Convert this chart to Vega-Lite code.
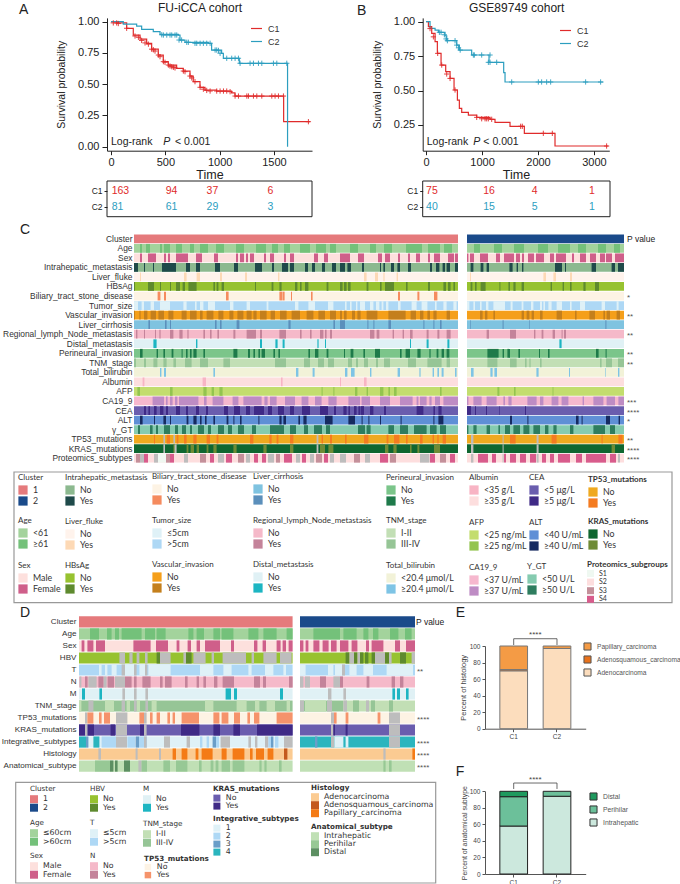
{"$schema":"https://vega.github.io/schema/vega-lite/v6.json","width":680,"height":884,"padding":0,"autosize":{"type":"none"},"background":"white",
"config":{"view":{"stroke":null},"font":"Liberation Sans","axis":{"grid":false,"domainColor":"#222","tickColor":"#222","labelColor":"#222","titleColor":"#222","titleFontWeight":"normal"},"legend":{"symbolType":"square","symbolSize":85,"symbolStrokeWidth":0,"labelFontSize":8.8,"titleFontSize":8,"titleFontWeight":"normal","rowPadding":1,"titlePadding":3,"labelOffset":5,"labelFont":"Lato","titleFont":"Lato","labelColor":"#333","titleColor":"#333","labelLimit":200,"titleLimit":300}},
"resolve":{"scale":{"x":"independent","y":"independent","color":"independent"}},
"layer":[
{"encoding":{"x":{"field":"t","type":"quantitative","scale":{"domain":[-37,1850],"range":[107,312],"nice":false,"zero":false},"axis":{"values":[0,500,1000,1500],"format":"d","orient":"bottom","offset":-733.3,"title":"Time","labelFontSize":11,"titleFontSize":12.5,"tickSize":4,"titlePadding":1,"labelPadding":2}},"y":{"field":"S","type":"quantitative","scale":{"domain":[-0.032,1.03],"range":[150.7,17.9],"nice":false,"zero":false},"axis":{"values":[0,0.25,0.5,0.75,1],"format":".2f","orient":"left","offset":-107,"title":"Survival probability","labelFontSize":11,"titleFontSize":10.5,"tickSize":5,"titlePadding":11,"labelPadding":3}}},
"layer":[
{"data":{"values":[{"s":"C1","t":0,"S":1},{"t":52,"S":0.99,"s":"C1"},{"t":144,"S":0.947,"s":"C1"},{"t":205,"S":0.893,"s":"C1"},{"t":267,"S":0.86,"s":"C1"},{"t":328,"S":0.827,"s":"C1"},{"t":374,"S":0.78,"s":"C1"},{"t":435,"S":0.733,"s":"C1"},{"t":481,"S":0.68,"s":"C1"},{"t":527,"S":0.653,"s":"C1"},{"t":604,"S":0.627,"s":"C1"},{"t":665,"S":0.605,"s":"C1"},{"t":727,"S":0.565,"s":"C1"},{"t":757,"S":0.52,"s":"C1"},{"t":819,"S":0.475,"s":"C1"},{"t":865,"S":0.453,"s":"C1"},{"t":972,"S":0.445,"s":"C1"},{"t":1110,"S":0.43,"s":"C1"},{"t":1141,"S":0.405,"s":"C1"},{"t":1589,"S":0.2,"s":"C1"},{"t":1831,"S":0.2,"s":"C1"},
{"s":"C2","t":0,"S":1},{"t":113,"S":0.981,"s":"C2"},{"t":236,"S":0.965,"s":"C2"},{"t":282,"S":0.939,"s":"C2"},{"t":389,"S":0.92,"s":"C2"},{"t":451,"S":0.899,"s":"C2"},{"t":620,"S":0.893,"s":"C2"},{"t":635,"S":0.853,"s":"C2"},{"t":681,"S":0.835,"s":"C2"},{"t":896,"S":0.827,"s":"C2"},{"t":926,"S":0.773,"s":"C2"},{"t":1018,"S":0.747,"s":"C2"},{"t":1034,"S":0.707,"s":"C2"},{"t":1181,"S":0.667,"s":"C2"},{"t":1625,"S":0,"s":"C2"}]},
"mark":{"type":"line","interpolate":"step-after","strokeWidth":1.2},
"encoding":{"color":{"field":"s","type":"nominal","scale":{"domain":["C1","C2"],"range":["#E02B2B","#2C9EBF"]},"legend":{"title":null,"orient":"none","legendX":250,"legendY":22,"symbolType":"stroke","symbolSize":120,"symbolStrokeWidth":1.2,"labelFont":"Liberation Sans","labelFontSize":9,"rowPadding":1}}}},
{"data":{"values":[{"s":"C1","t":21,"S":0.99},{"s":"C1","t":52,"S":0.99},{"s":"C1","t":67,"S":0.985},{"s":"C1","t":144,"S":0.947},{"s":"C1","t":221,"S":0.885},{"s":"C1","t":252,"S":0.875},{"s":"C1","t":282,"S":0.85},{"s":"C1","t":313,"S":0.83},{"s":"C1","t":344,"S":0.82},{"s":"C1","t":374,"S":0.78},{"s":"C1","t":390,"S":0.775},{"s":"C1","t":405,"S":0.765},{"s":"C1","t":436,"S":0.733},{"s":"C1","t":451,"S":0.72},{"s":"C1","t":482,"S":0.68},{"s":"C1","t":497,"S":0.675},{"s":"C1","t":528,"S":0.653},{"s":"C1","t":543,"S":0.645},{"s":"C1","t":559,"S":0.64},{"s":"C1","t":574,"S":0.635},{"s":"C1","t":589,"S":0.63},{"s":"C1","t":666,"S":0.605},{"s":"C1","t":681,"S":0.6},{"s":"C1","t":727,"S":0.565},{"s":"C1","t":743,"S":0.55},{"s":"C1","t":773,"S":0.52},{"s":"C1","t":820,"S":0.475},{"s":"C1","t":850,"S":0.46},{"s":"C1","t":881,"S":0.45},{"s":"C1","t":912,"S":0.445},{"s":"C1","t":973,"S":0.445},{"s":"C1","t":1004,"S":0.445},{"s":"C1","t":1035,"S":0.445},{"s":"C1","t":1065,"S":0.445},{"s":"C1","t":1096,"S":0.44},{"s":"C1","t":1142,"S":0.405},{"s":"C1","t":1173,"S":0.405},{"s":"C1","t":1250,"S":0.405},{"s":"C1","t":1265,"S":0.405},{"s":"C1","t":1311,"S":0.405},{"s":"C1","t":1342,"S":0.405},{"s":"C1","t":1388,"S":0.405},{"s":"C1","t":1480,"S":0.405},{"s":"C1","t":1510,"S":0.405},{"s":"C1","t":1541,"S":0.405},{"s":"C1","t":1587,"S":0.405},{"s":"C1","t":1817,"S":0.2},
{"s":"C2","t":467,"S":0.895},{"s":"C2","t":482,"S":0.893},{"s":"C2","t":513,"S":0.893},{"s":"C2","t":543,"S":0.893},{"s":"C2","t":559,"S":0.893},{"s":"C2","t":589,"S":0.893},{"s":"C2","t":605,"S":0.893},{"s":"C2","t":626,"S":0.853},{"s":"C2","t":650,"S":0.853},{"s":"C2","t":697,"S":0.835},{"s":"C2","t":712,"S":0.835},{"s":"C2","t":773,"S":0.827},{"s":"C2","t":789,"S":0.827},{"s":"C2","t":820,"S":0.827},{"s":"C2","t":850,"S":0.827},{"s":"C2","t":881,"S":0.827},{"s":"C2","t":912,"S":0.827},{"s":"C2","t":958,"S":0.773},{"s":"C2","t":973,"S":0.773},{"s":"C2","t":989,"S":0.77},{"s":"C2","t":1004,"S":0.747},{"s":"C2","t":1065,"S":0.707},{"s":"C2","t":1111,"S":0.707},{"s":"C2","t":1142,"S":0.707},{"s":"C2","t":1173,"S":0.707},{"s":"C2","t":1188,"S":0.667},{"s":"C2","t":1280,"S":0.667},{"s":"C2","t":1311,"S":0.667},{"s":"C2","t":1357,"S":0.667},{"s":"C2","t":1388,"S":0.667},{"s":"C2","t":1495,"S":0.667},{"s":"C2","t":1526,"S":0.667},{"s":"C2","t":1618,"S":0.667}]},
"mark":{"type":"point","shape":"M-1,0H1M0,-1V1","size":28,"filled":false,"strokeWidth":0.9,"opacity":1},
"encoding":{"color":{"field":"s","type":"nominal","legend":null}}},
{"data":{"values":[{"t":819,"S":1.11,"k":"FU-iCCA cohort"}]},"mark":{"type":"text","fontSize":12,"align":"center","color":"#222"},"encoding":{"text":{"field":"k"}}},
{"data":{"values":[{"t":-846,"S":1.09,"k":"A"}]},"mark":{"type":"text","fontSize":14,"align":"left","color":"#222"},"encoding":{"text":{"field":"k"}}},
{"data":{"values":[{"t":0,"S":0.04,"k":"Log-rank"},{"t":589,"S":0.04,"k":"< 0.001"}]},"mark":{"type":"text","fontSize":10.5,"align":"left","color":"#222"},"encoding":{"text":{"field":"k"}}},
{"data":{"values":[{"t":481,"S":0.04,"k":"P"}]},"mark":{"type":"text","fontSize":10.5,"align":"left","color":"#222","fontStyle":"italic"},"encoding":{"text":{"field":"k"}}}
]},
{"encoding":{"x":{"field":"t","type":"quantitative","scale":{"domain":[-60,3274],"range":[422.7,609.3],"nice":false,"zero":false},"axis":{"values":[0,1000,2000,3000],"format":"d","orient":"bottom","offset":-733.3,"title":"Time","labelFontSize":11,"titleFontSize":12.5,"tickSize":4,"titlePadding":1,"labelPadding":2}},"y":{"field":"S","type":"quantitative","scale":{"domain":[0.063,1.0276],"range":[150.7,17.9],"nice":false,"zero":false},"axis":{"values":[0.25,0.5,0.75,1],"format":".2f","orient":"left","offset":-422.7,"title":"Survival probability","labelFontSize":11,"titleFontSize":10.5,"tickSize":5,"titlePadding":11,"labelPadding":3}}},
"layer":[
{"data":{"values":[{"s":"C1","t":0,"S":1},{"s":"C1","t":42,"S":0.964},{"s":"C1","t":101,"S":0.915},{"s":"C1","t":161,"S":0.855},{"s":"C1","t":202,"S":0.77},{"s":"C1","t":268,"S":0.685},{"s":"C1","t":351,"S":0.637},{"s":"C1","t":429,"S":0.588},{"s":"C1","t":500,"S":0.504},{"s":"C1","t":560,"S":0.431},{"s":"C1","t":595,"S":0.37},{"s":"C1","t":637,"S":0.341},{"s":"C1","t":756,"S":0.322},{"s":"C1","t":905,"S":0.305},{"s":"C1","t":1143,"S":0.291},{"s":"C1","t":1232,"S":0.269},{"s":"C1","t":1500,"S":0.24},{"s":"C1","t":1756,"S":0.189},{"s":"C1","t":2304,"S":0.097},{"s":"C1","t":3256,"S":0.097},
{"s":"C2","t":0,"S":1},{"s":"C2","t":71,"S":0.952},{"s":"C2","t":161,"S":0.939},{"s":"C2","t":220,"S":0.923},{"s":"C2","t":339,"S":0.898},{"s":"C2","t":369,"S":0.862},{"s":"C2","t":548,"S":0.83},{"s":"C2","t":595,"S":0.794},{"s":"C2","t":815,"S":0.758},{"s":"C2","t":1125,"S":0.705},{"s":"C2","t":1387,"S":0.63},{"s":"C2","t":1411,"S":0.562},{"s":"C2","t":3167,"S":0.562}]},
"mark":{"type":"line","interpolate":"step-after","strokeWidth":1.2},
"encoding":{"color":{"field":"s","type":"nominal","scale":{"domain":["C1","C2"],"range":["#E02B2B","#2C9EBF"]},"legend":{"title":null,"orient":"none","legendX":559,"legendY":24,"symbolType":"stroke","symbolSize":120,"symbolStrokeWidth":1.2,"labelFont":"Liberation Sans","labelFontSize":9,"rowPadding":1}}}},
{"data":{"values":[{"s":"C1","t":71,"S":0.95},{"s":"C1","t":131,"S":0.89},{"s":"C1","t":208,"S":0.77},{"s":"C1","t":280,"S":0.685},{"s":"C1","t":369,"S":0.62},{"s":"C1","t":429,"S":0.588},{"s":"C1","t":518,"S":0.504},{"s":"C1","t":905,"S":0.305},{"s":"C1","t":994,"S":0.295},{"s":"C1","t":1054,"S":0.295},{"s":"C1","t":1083,"S":0.295},{"s":"C1","t":1113,"S":0.295},{"s":"C1","t":1173,"S":0.291},{"s":"C1","t":1690,"S":0.24},{"s":"C1","t":1720,"S":0.24},{"s":"C1","t":2095,"S":0.189},{"s":"C1","t":2256,"S":0.189},{"s":"C1","t":3226,"S":0.097},
{"s":"C2","t":238,"S":0.923},{"s":"C2","t":268,"S":0.923},{"s":"C2","t":327,"S":0.905},{"s":"C2","t":357,"S":0.875},{"s":"C2","t":381,"S":0.862},{"s":"C2","t":518,"S":0.862},{"s":"C2","t":548,"S":0.83},{"s":"C2","t":580,"S":0.81},{"s":"C2","t":610,"S":0.794},{"s":"C2","t":845,"S":0.758},{"s":"C2","t":863,"S":0.758},{"s":"C2","t":994,"S":0.758},{"s":"C2","t":1143,"S":0.758},{"s":"C2","t":1113,"S":0.705},{"s":"C2","t":1143,"S":0.705},{"s":"C2","t":1262,"S":0.705},{"s":"C2","t":1530,"S":0.562},{"s":"C2","t":2006,"S":0.562},{"s":"C2","t":2065,"S":0.562},{"s":"C2","t":2155,"S":0.562},{"s":"C2","t":2226,"S":0.562},{"s":"C2","t":2851,"S":0.562},{"s":"C2","t":3119,"S":0.562}]},
"mark":{"type":"point","shape":"M-1,0H1M0,-1V1","size":28,"filled":false,"strokeWidth":0.9,"opacity":1},
"encoding":{"color":{"field":"s","type":"nominal","legend":null}}},
{"data":{"values":[{"t":1620,"S":1.1,"k":"GSE89749 cohort"}]},"mark":{"type":"text","fontSize":12,"align":"center","color":"#222"},"encoding":{"text":{"field":"k"}}},
{"data":{"values":[{"t":-1232,"S":1.08,"k":"B"}]},"mark":{"type":"text","fontSize":14,"align":"left","color":"#222"},"encoding":{"text":{"field":"k"}}},
{"data":{"values":[{"t":12,"S":0.128,"k":"Log-rank"},{"t":1024,"S":0.128,"k":"< 0.001"}]},"mark":{"type":"text","fontSize":10.5,"align":"left","color":"#222"},"encoding":{"text":{"field":"k"}}},
{"data":{"values":[{"t":845,"S":0.128,"k":"P"}]},"mark":{"type":"text","fontSize":10.5,"align":"left","color":"#222","fontStyle":"italic"},"encoding":{"text":{"field":"k"}}}
]},
{"data":{"values":[{"s":"C1","t":6,"n":"163"},{"s":"C1","t":503,"n":"94"},{"s":"C1","t":880,"n":"37"},{"s":"C1","t":1441,"n":"6"},{"s":"C2","t":6,"n":"81"},{"s":"C2","t":503,"n":"61"},{"s":"C2","t":880,"n":"29"},{"s":"C2","t":1441,"n":"3"}]},"mark":{"type":"text","align":"left","fontSize":10.5},"encoding":{"x":{"field":"t","type":"quantitative","scale":{"domain":[-37,1850],"range":[107,312],"nice":false,"zero":false},"axis":null},"y":{"field":"s","type":"nominal","scale":{"domain":["C1","C2"],"range":[182.5,214.5]},"axis":{"orient":"left","offset":-107,"title":null,"domain":false,"labelFontSize":8.5,"tickSize":3}},"text":{"field":"n"},"color":{"field":"s","type":"nominal","scale":{"domain":["C1","C2"],"range":["#E02B2B","#2C9EBF"]},"legend":null}}},
{"data":{"values":[{"s":"C1","t":0,"n":"75"},{"s":"C1","t":1020,"n":"16"},{"s":"C1","t":1890,"n":"4"},{"s":"C1","t":2910,"n":"1"},{"s":"C2","t":0,"n":"40"},{"s":"C2","t":1020,"n":"15"},{"s":"C2","t":1890,"n":"5"},{"s":"C2","t":2910,"n":"1"}]},"mark":{"type":"text","align":"left","fontSize":10.5},"encoding":{"x":{"field":"t","type":"quantitative","scale":{"domain":[-60,3274],"range":[422.7,609.3],"nice":false,"zero":false},"axis":null},"y":{"field":"s","type":"nominal","scale":{"domain":["C1","C2"],"range":[182.5,214.5]},"axis":{"orient":"left","offset":-422.7,"title":null,"domain":false,"labelFontSize":8.5,"tickSize":3}},"text":{"field":"n"},"color":{"field":"s","type":"nominal","scale":{"domain":["C1","C2"],"range":["#E02B2B","#2C9EBF"]},"legend":null}}},
{"data":{"values":[{"p":0,"q":1}]},"mark":{"type":"rect","fillOpacity":0,"stroke":"#222","strokeWidth":1},"encoding":{"x":{"datum":0,"scale":{"domain":[0,1],"range":[107,312]},"axis":null},"x2":{"datum":1},"y":{"datum":0,"scale":{"domain":[0,1],"range":[181,216.7]},"axis":null},"y2":{"datum":1}}},
{"data":{"values":[{"p":0,"q":1}]},"mark":{"type":"rect","fillOpacity":0,"stroke":"#222","strokeWidth":1},"encoding":{"x":{"datum":0,"scale":{"domain":[0,1],"range":[422.7,610]},"axis":null},"x2":{"datum":1},"y":{"datum":0,"scale":{"domain":[0,1],"range":[181,216.7]},"axis":null},"y2":{"datum":1}}},
{"data":{"values":[{"p":0,"q":1}]},"mark":{"type":"rect","fillOpacity":0,"stroke":"#999","strokeWidth":1.2},"encoding":{"x":{"datum":0,"scale":{"domain":[0,1],"range":[14,672]},"axis":null},"x2":{"datum":1},"y":{"datum":0,"scale":{"domain":[0,1],"range":[472,602.7]},"axis":null},"y2":{"datum":1}}},
{"data":{"values":[{"p":0,"q":1}]},"mark":{"type":"rect","fillOpacity":0,"stroke":"#999","strokeWidth":1.2},"encoding":{"x":{"datum":0,"scale":{"domain":[0,1],"range":[15.7,435.7]},"axis":null},"x2":{"datum":1},"y":{"datum":0,"scale":{"domain":[0,1],"range":[782.3,883]},"axis":null},"y2":{"datum":1}}},
{"resolve":{"scale":{"color":"independent"},"axis":{"y":"independent"}},
"encoding":{"x":{"field":"a","type":"quantitative","scale":{"domain":[0,245],"range":[134,624],"nice":false,"zero":false},"axis":null},"x2":{"field":"b"}},
"layer":[
{"data":{"values":[{"a":0,"b":162,"v":"1"},{"a":166.5,"b":245,"v":"2"}]},"mark":"rect","encoding":{"y":{"datum":"Cluster","type":"nominal","scale":{"domain":["Cluster","Age","Sex","Intrahepatic_metastasis","Liver_fluke","HBsAg","Biliary_tract_stone_disease","Tumor_size","Vascular_invasion","Liver_cirrhosis","Regional_lymph_Node_metastasis","Distal_metastasis","Perineural_invasion","TNM_stage","Total_bilirubin","Albumin","AFP","CA19_9","CEA","ALT","γ_GT","TP53_mutations","KRAS_mutations","Proteomics_subtypes"],"range":[234,463],"paddingInner":0.08,"paddingOuter":0.04},"axis":{"orient":"left","offset":-132,"title":null,"domain":false,"ticks":false,"labelFontSize":8.4,"labelPadding":0,"labelLimit":200,"labelColor":"#333"}},"color":{"field":"v","type":"nominal","scale":{"domain":["1","2"],"range":["#E57A7C","#1A4A8A"]},"legend":{"title":"Cluster","orient":"none","legendX":18,"legendY":474}}}},
{"data":{"values":[{"a":0,"b":162,"v":"<61"},{"a":166.5,"b":245,"v":"<61"},{"a":3,"b":4,"v":"≥61"},{"a":6,"b":8,"v":"≥61"},{"a":13,"b":14,"v":"≥61"},{"a":15,"b":18,"v":"≥61"},{"a":21,"b":24,"v":"≥61"},{"a":28,"b":30,"v":"≥61"},{"a":33,"b":37,"v":"≥61"},{"a":41,"b":45,"v":"≥61"},{"a":51,"b":55,"v":"≥61"},{"a":61,"b":66,"v":"≥61"},{"a":69,"b":72,"v":"≥61"},{"a":75,"b":78,"v":"≥61"},{"a":83,"b":88,"v":"≥61"},{"a":91,"b":96,"v":"≥61"},{"a":98,"b":101,"v":"≥61"},{"a":108,"b":112,"v":"≥61"},{"a":118,"b":121,"v":"≥61"},{"a":125,"b":129,"v":"≥61"},{"a":136,"b":144,"v":"≥61"},{"a":147,"b":153,"v":"≥61"},{"a":155,"b":159,"v":"≥61"},{"a":170,"b":173,"v":"≥61"},{"a":180,"b":184,"v":"≥61"},{"a":190,"b":195,"v":"≥61"},{"a":202,"b":207,"v":"≥61"},{"a":212,"b":218,"v":"≥61"},{"a":222,"b":226,"v":"≥61"},{"a":232,"b":236,"v":"≥61"},{"a":240,"b":243,"v":"≥61"}]},"mark":"rect","encoding":{"y":{"datum":"Age","type":"nominal","axis":null},"color":{"field":"v","type":"nominal","scale":{"domain":["<61","≥61"],"range":["#A3D39C","#74C17A"]},"legend":{"title":"Age","orient":"none","legendX":18,"legendY":517}}}},
{"data":{"values":[{"a":0,"b":162,"v":"Male"},{"a":166.5,"b":245,"v":"Male"},{"a":3,"b":4,"v":"Female"},{"a":7,"b":11,"v":"Female"},{"a":15,"b":16,"v":"Female"},{"a":17,"b":18,"v":"Female"},{"a":21,"b":27,"v":"Female"},{"a":31,"b":34,"v":"Female"},{"a":40,"b":42,"v":"Female"},{"a":51,"b":52,"v":"Female"},{"a":53,"b":55,"v":"Female"},{"a":56,"b":57,"v":"Female"},{"a":58,"b":60,"v":"Female"},{"a":65,"b":66,"v":"Female"},{"a":68,"b":70,"v":"Female"},{"a":75,"b":76,"v":"Female"},{"a":78,"b":80,"v":"Female"},{"a":90,"b":92,"v":"Female"},{"a":95,"b":97,"v":"Female"},{"a":103,"b":108,"v":"Female"},{"a":112,"b":115,"v":"Female"},{"a":122,"b":124,"v":"Female"},{"a":125.5,"b":128,"v":"Female"},{"a":132,"b":133,"v":"Female"},{"a":137,"b":138,"v":"Female"},{"a":141,"b":143,"v":"Female"},{"a":147,"b":148,"v":"Female"},{"a":150,"b":153,"v":"Female"},{"a":157,"b":160,"v":"Female"},{"a":160.5,"b":162,"v":"Female"},{"a":166.5,"b":167.2,"v":"Female"},{"a":168,"b":170,"v":"Female"},{"a":173,"b":177,"v":"Female"},{"a":181,"b":183,"v":"Female"},{"a":185,"b":190,"v":"Female"},{"a":191,"b":193,"v":"Female"},{"a":194,"b":195,"v":"Female"},{"a":197,"b":200,"v":"Female"},{"a":201,"b":203,"v":"Female"},{"a":203,"b":205,"v":"Female"},{"a":208,"b":210,"v":"Female"},{"a":211,"b":216,"v":"Female"},{"a":219,"b":220,"v":"Female"},{"a":223,"b":226,"v":"Female"},{"a":228,"b":231,"v":"Female"},{"a":233,"b":235.5,"v":"Female"},{"a":236,"b":239,"v":"Female"},{"a":240.5,"b":245,"v":"Female"}]},"mark":"rect","encoding":{"y":{"datum":"Sex","type":"nominal","axis":null},"color":{"field":"v","type":"nominal","scale":{"domain":["Male","Female"],"range":["#FDE0DD","#CF5F8A"]},"legend":{"title":"Sex","orient":"none","legendX":18,"legendY":562}}}},
{"data":{"values":[{"a":0,"b":162,"v":"No"},{"a":166.5,"b":245,"v":"No"},{"a":0,"b":2,"v":"Yes"},{"a":5,"b":5.5,"v":"Yes"},{"a":9.5,"b":10,"v":"Yes"},{"a":14,"b":21,"v":"Yes"},{"a":26,"b":28,"v":"Yes"},{"a":31,"b":33,"v":"Yes"},{"a":40.5,"b":43,"v":"Yes"},{"a":50,"b":52,"v":"Yes"},{"a":60.5,"b":64,"v":"Yes"},{"a":69,"b":70,"v":"Yes"},{"a":74,"b":77,"v":"Yes"},{"a":78,"b":80,"v":"Yes"},{"a":85.5,"b":87,"v":"Yes"},{"a":89,"b":90.5,"v":"Yes"},{"a":94,"b":95.5,"v":"Yes"},{"a":99,"b":101,"v":"Yes"},{"a":103,"b":105.5,"v":"Yes"},{"a":106.7,"b":108.5,"v":"Yes"},{"a":114,"b":115,"v":"Yes"},{"a":123,"b":123.5,"v":"Yes"},{"a":124.7,"b":125.5,"v":"Yes"},{"a":128.5,"b":130,"v":"Yes"},{"a":131.7,"b":133,"v":"Yes"},{"a":137,"b":138.5,"v":"Yes"},{"a":148,"b":149,"v":"Yes"},{"a":151,"b":152.7,"v":"Yes"},{"a":154.3,"b":155.5,"v":"Yes"},{"a":156.3,"b":158,"v":"Yes"},{"a":160.5,"b":162,"v":"Yes"},{"a":168.3,"b":169.7,"v":"Yes"},{"a":173.3,"b":174.7,"v":"Yes"},{"a":176.3,"b":177.5,"v":"Yes"},{"a":187.7,"b":189.3,"v":"Yes"},{"a":191.3,"b":192,"v":"Yes"},{"a":194,"b":194.7,"v":"Yes"},{"a":210.5,"b":214,"v":"Yes"},{"a":215.5,"b":216,"v":"Yes"},{"a":228.8,"b":231,"v":"Yes"},{"a":238.8,"b":240.5,"v":"Yes"},{"a":242,"b":245,"v":"Yes"}]},"mark":"rect","encoding":{"y":{"datum":"Intrahepatic_metastasis","type":"nominal","axis":null},"color":{"field":"v","type":"nominal","scale":{"domain":["No","Yes"],"range":["#8CB98F","#1F4A4A"]},"legend":{"title":"Intrahepatic_metastasis","orient":"none","legendX":65,"legendY":474}}}},
{"data":{"values":[{"a":0,"b":162,"v":"No"},{"a":166.5,"b":245,"v":"No"},{"a":3,"b":3.5,"v":"Yes"},{"a":25,"b":26.3,"v":"Yes"},{"a":31.3,"b":33,"v":"Yes"},{"a":43,"b":44,"v":"Yes"},{"a":55.5,"b":56.5,"v":"Yes"},{"a":72,"b":72.7,"v":"Yes"},{"a":115,"b":116.3,"v":"Yes"},{"a":120.5,"b":122,"v":"Yes"},{"a":124.7,"b":125.3,"v":"Yes"},{"a":131.3,"b":132,"v":"Yes"},{"a":168,"b":168.5,"v":"Yes"},{"a":204.7,"b":206,"v":"Yes"},{"a":209.7,"b":211,"v":"Yes"},{"a":218,"b":219,"v":"Yes"}]},"mark":"rect","encoding":{"y":{"datum":"Liver_fluke","type":"nominal","axis":null},"color":{"field":"v","type":"nominal","scale":{"domain":["No","Yes"],"range":["#FFF3EC","#FDD9B5"]},"legend":{"title":"Liver_fluke","orient":"none","legendX":65,"legendY":518}}}},
{"data":{"values":[{"a":0,"b":162,"v":"No"},{"a":166.5,"b":245,"v":"No"},{"a":0,"b":0.5,"v":"Yes"},{"a":7,"b":10,"v":"Yes"},{"a":13,"b":13.5,"v":"Yes"},{"a":18,"b":18.5,"v":"Yes"},{"a":21,"b":23,"v":"Yes"},{"a":24.3,"b":25.5,"v":"Yes"},{"a":27.2,"b":31.3,"v":"Yes"},{"a":39.7,"b":40.5,"v":"Yes"},{"a":41.3,"b":42.2,"v":"Yes"},{"a":43.8,"b":45,"v":"Yes"},{"a":60.5,"b":61,"v":"Yes"},{"a":68.8,"b":69.7,"v":"Yes"},{"a":72.7,"b":73.8,"v":"Yes"},{"a":80.5,"b":81.7,"v":"Yes"},{"a":83,"b":83.8,"v":"Yes"},{"a":85.5,"b":87.2,"v":"Yes"},{"a":96.3,"b":97.2,"v":"Yes"},{"a":103,"b":104.3,"v":"Yes"},{"a":105,"b":106.3,"v":"Yes"},{"a":107,"b":108.3,"v":"Yes"},{"a":116.3,"b":117.2,"v":"Yes"},{"a":123,"b":123.8,"v":"Yes"},{"a":125.5,"b":130,"v":"Yes"},{"a":136,"b":136.8,"v":"Yes"},{"a":147,"b":148,"v":"Yes"},{"a":154.7,"b":156,"v":"Yes"},{"a":157,"b":158.3,"v":"Yes"},{"a":159.7,"b":160.5,"v":"Yes"},{"a":168.3,"b":169.2,"v":"Yes"},{"a":170.5,"b":171.3,"v":"Yes"},{"a":173.3,"b":175.8,"v":"Yes"},{"a":182.7,"b":183.2,"v":"Yes"},{"a":187.2,"b":188,"v":"Yes"},{"a":189.7,"b":190.8,"v":"Yes"},{"a":193.8,"b":195,"v":"Yes"},{"a":208.3,"b":209,"v":"Yes"},{"a":214.3,"b":215,"v":"Yes"},{"a":218,"b":218.8,"v":"Yes"},{"a":224.7,"b":225.8,"v":"Yes"},{"a":230.5,"b":232.5,"v":"Yes"}]},"mark":"rect","encoding":{"y":{"datum":"HBsAg","type":"nominal","axis":null},"color":{"field":"v","type":"nominal","scale":{"domain":["No","Yes"],"range":["#97C230","#5E8A2E"]},"legend":{"title":"HBsAg","orient":"none","legendX":65,"legendY":562}}}},
{"data":{"values":[{"a":0,"b":162,"v":"No"},{"a":166.5,"b":245,"v":"No"},{"a":11.8,"b":13.2,"v":"Yes"},{"a":15,"b":16,"v":"Yes"},{"a":46,"b":47.3,"v":"Yes"},{"a":72.7,"b":74,"v":"Yes"},{"a":74.2,"b":75.3,"v":"Yes"},{"a":78.5,"b":79,"v":"Yes"},{"a":88.5,"b":89.3,"v":"Yes"},{"a":132,"b":133,"v":"Yes"},{"a":141.7,"b":142.7,"v":"Yes"},{"a":150,"b":151.7,"v":"Yes"}]},"mark":"rect","encoding":{"y":{"datum":"Biliary_tract_stone_disease","type":"nominal","axis":null},"color":{"field":"v","type":"nominal","scale":{"domain":["No","Yes"],"range":["#FDF3E4","#F58B5E"]},"legend":{"title":"Biliary_tract_stone_disease","orient":"none","legendX":152,"legendY":473}}}},
{"data":{"values":[{"a":0,"b":162,"v":">5cm"},{"a":166.5,"b":245,"v":">5cm"},{"a":0,"b":2,"v":"≤5cm"},{"a":3.8,"b":5,"v":"≤5cm"},{"a":8.3,"b":10,"v":"≤5cm"},{"a":13,"b":18,"v":"≤5cm"},{"a":24.7,"b":26.3,"v":"≤5cm"},{"a":30.5,"b":31.3,"v":"≤5cm"},{"a":33,"b":34.7,"v":"≤5cm"},{"a":37,"b":40.5,"v":"≤5cm"},{"a":48,"b":49.7,"v":"≤5cm"},{"a":56.3,"b":58,"v":"≤5cm"},{"a":66.3,"b":67.2,"v":"≤5cm"},{"a":80.5,"b":82.2,"v":"≤5cm"},{"a":87.2,"b":90.5,"v":"≤5cm"},{"a":97,"b":99.7,"v":"≤5cm"},{"a":105.5,"b":106.3,"v":"≤5cm"},{"a":108,"b":108.8,"v":"≤5cm"},{"a":111,"b":111.7,"v":"≤5cm"},{"a":113,"b":115.5,"v":"≤5cm"},{"a":118,"b":119.7,"v":"≤5cm"},{"a":121,"b":122.7,"v":"≤5cm"},{"a":123.8,"b":124.7,"v":"≤5cm"},{"a":126,"b":127.2,"v":"≤5cm"},{"a":132,"b":133.3,"v":"≤5cm"},{"a":138.8,"b":141.3,"v":"≤5cm"},{"a":143.8,"b":146.7,"v":"≤5cm"},{"a":150.5,"b":151.3,"v":"≤5cm"},{"a":154.7,"b":156.3,"v":"≤5cm"},{"a":159.7,"b":161.3,"v":"≤5cm"},{"a":166.5,"b":167.7,"v":"≤5cm"},{"a":169.7,"b":170.5,"v":"≤5cm"},{"a":173,"b":173.8,"v":"≤5cm"},{"a":176,"b":177.2,"v":"≤5cm"},{"a":179.7,"b":185.5,"v":"≤5cm"},{"a":188.3,"b":189.3,"v":"≤5cm"},{"a":193.8,"b":194.7,"v":"≤5cm"},{"a":198.5,"b":199.7,"v":"≤5cm"},{"a":203,"b":204,"v":"≤5cm"},{"a":204.7,"b":205.5,"v":"≤5cm"},{"a":207.2,"b":208.8,"v":"≤5cm"},{"a":211.3,"b":214,"v":"≤5cm"},{"a":218,"b":218.8,"v":"≤5cm"},{"a":223,"b":225.5,"v":"≤5cm"},{"a":233.8,"b":235.5,"v":"≤5cm"},{"a":241.3,"b":242.3,"v":"≤5cm"}]},"mark":"rect","encoding":{"y":{"datum":"Tumor_size","type":"nominal","axis":null},"color":{"field":"v","type":"nominal","scale":{"domain":["≤5cm",">5cm"],"range":["#DFF1F7","#AED8F5"]},"legend":{"title":"Tumor_size","orient":"none","legendX":152,"legendY":517}}}},
{"data":{"values":[{"a":0,"b":162,"v":"No"},{"a":166.5,"b":245,"v":"No"},{"a":0,"b":0.5,"v":"Yes"},{"a":2.7,"b":3.3,"v":"Yes"},{"a":5,"b":6.7,"v":"Yes"},{"a":8.3,"b":11,"v":"Yes"},{"a":12.2,"b":15,"v":"Yes"},{"a":17.2,"b":19.7,"v":"Yes"},{"a":23.8,"b":26.3,"v":"Yes"},{"a":28,"b":31.3,"v":"Yes"},{"a":33,"b":34.3,"v":"Yes"},{"a":36.3,"b":39.7,"v":"Yes"},{"a":42.2,"b":44.7,"v":"Yes"},{"a":47.7,"b":49.7,"v":"Yes"},{"a":51.7,"b":54.7,"v":"Yes"},{"a":56.3,"b":58.8,"v":"Yes"},{"a":59.7,"b":61.3,"v":"Yes"},{"a":63,"b":66.3,"v":"Yes"},{"a":68.3,"b":70.5,"v":"Yes"},{"a":73,"b":76.3,"v":"Yes"},{"a":78.8,"b":83,"v":"Yes"},{"a":86.3,"b":89.7,"v":"Yes"},{"a":92.2,"b":95.5,"v":"Yes"},{"a":98,"b":101,"v":"Yes"},{"a":103,"b":104,"v":"Yes"},{"a":105,"b":106.3,"v":"Yes"},{"a":109,"b":110.5,"v":"Yes"},{"a":111.7,"b":113.3,"v":"Yes"},{"a":116.3,"b":121.7,"v":"Yes"},{"a":127.2,"b":135.8,"v":"Yes"},{"a":138.3,"b":141,"v":"Yes"},{"a":143,"b":144.7,"v":"Yes"},{"a":146.7,"b":148,"v":"Yes"},{"a":149.7,"b":151.3,"v":"Yes"},{"a":156.3,"b":158,"v":"Yes"},{"a":173,"b":174.3,"v":"Yes"},{"a":175.5,"b":176.7,"v":"Yes"},{"a":179.7,"b":180.5,"v":"Yes"},{"a":193.8,"b":195,"v":"Yes"},{"a":196.3,"b":197.7,"v":"Yes"},{"a":198.8,"b":200,"v":"Yes"},{"a":203,"b":204.3,"v":"Yes"},{"a":211.3,"b":214,"v":"Yes"},{"a":220.5,"b":221.3,"v":"Yes"},{"a":227.7,"b":230.5,"v":"Yes"},{"a":234.7,"b":235.5,"v":"Yes"},{"a":236.3,"b":238,"v":"Yes"},{"a":241.3,"b":243,"v":"Yes"}]},"mark":"rect","encoding":{"y":{"datum":"Vascular_invasion","type":"nominal","axis":null},"color":{"field":"v","type":"nominal","scale":{"domain":["No","Yes"],"range":["#F59F1A","#C47F1C"]},"legend":{"title":"Vascular_invasion","orient":"none","legendX":152,"legendY":561}}}},
{"data":{"values":[{"a":0,"b":162,"v":"No"},{"a":166.5,"b":245,"v":"No"},{"a":7.2,"b":8,"v":"Yes"},{"a":15.5,"b":16.3,"v":"Yes"},{"a":18,"b":18.5,"v":"Yes"},{"a":40.5,"b":41.3,"v":"Yes"},{"a":43,"b":43.8,"v":"Yes"},{"a":51.3,"b":52.7,"v":"Yes"},{"a":77.2,"b":78.3,"v":"Yes"},{"a":99.7,"b":100.5,"v":"Yes"},{"a":103,"b":105.5,"v":"Yes"},{"a":116.7,"b":117.2,"v":"Yes"},{"a":119.7,"b":120.2,"v":"Yes"},{"a":127.2,"b":128.5,"v":"Yes"},{"a":144.7,"b":145.2,"v":"Yes"},{"a":149.7,"b":150.2,"v":"Yes"},{"a":153,"b":153.8,"v":"Yes"},{"a":168,"b":168.3,"v":"Yes"},{"a":184.3,"b":184.8,"v":"Yes"},{"a":197.7,"b":198,"v":"Yes"},{"a":235.7,"b":236.2,"v":"Yes"}]},"mark":"rect","encoding":{"y":{"datum":"Liver_cirrhosis","type":"nominal","axis":null},"color":{"field":"v","type":"nominal","scale":{"domain":["No","Yes"],"range":["#7FC3E0","#5B8FBB"]},"legend":{"title":"Liver_cirrhosis","orient":"none","legendX":253,"legendY":473}}}},
{"data":{"values":[{"a":0,"b":162,"v":"No"},{"a":166.5,"b":245,"v":"No"},{"a":1,"b":1.7,"v":"Yes"},{"a":5,"b":5.5,"v":"Yes"},{"a":10.5,"b":11,"v":"Yes"},{"a":12.7,"b":13.3,"v":"Yes"},{"a":18,"b":19.7,"v":"Yes"},{"a":22.7,"b":24.3,"v":"Yes"},{"a":26.7,"b":27.3,"v":"Yes"},{"a":34.7,"b":35.5,"v":"Yes"},{"a":38,"b":38.8,"v":"Yes"},{"a":41.7,"b":42.5,"v":"Yes"},{"a":49.7,"b":50.7,"v":"Yes"},{"a":56.3,"b":61,"v":"Yes"},{"a":63,"b":64,"v":"Yes"},{"a":72.7,"b":76,"v":"Yes"},{"a":83,"b":83.8,"v":"Yes"},{"a":88,"b":88.8,"v":"Yes"},{"a":93,"b":94.7,"v":"Yes"},{"a":95.5,"b":96.3,"v":"Yes"},{"a":98,"b":99,"v":"Yes"},{"a":118,"b":120.2,"v":"Yes"},{"a":121.3,"b":122.7,"v":"Yes"},{"a":129.3,"b":130,"v":"Yes"},{"a":134.3,"b":135,"v":"Yes"},{"a":138,"b":139.3,"v":"Yes"},{"a":146.3,"b":147.3,"v":"Yes"},{"a":151.7,"b":152.7,"v":"Yes"},{"a":156.3,"b":158.3,"v":"Yes"},{"a":176.3,"b":177.5,"v":"Yes"},{"a":188,"b":191,"v":"Yes"},{"a":200,"b":200.7,"v":"Yes"},{"a":203.8,"b":204.7,"v":"Yes"},{"a":209.3,"b":210.5,"v":"Yes"},{"a":213.8,"b":214.3,"v":"Yes"},{"a":215,"b":216,"v":"Yes"}]},"mark":"rect","encoding":{"y":{"datum":"Regional_lymph_Node_metastasis","type":"nominal","axis":null},"color":{"field":"v","type":"nominal","scale":{"domain":["No","Yes"],"range":["#F5B9C9","#C4839A"]},"legend":{"title":"Regional_lymph_Node_metastasis","orient":"none","legendX":253,"legendY":517}}}},
{"data":{"values":[{"a":0,"b":162,"v":"No"},{"a":166.5,"b":245,"v":"No"},{"a":9.7,"b":11.3,"v":"Yes"},{"a":31,"b":31.7,"v":"Yes"},{"a":63,"b":64,"v":"Yes"},{"a":70.7,"b":71.8,"v":"Yes"},{"a":74.3,"b":75.3,"v":"Yes"},{"a":91.7,"b":92.3,"v":"Yes"},{"a":95.5,"b":96,"v":"Yes"},{"a":138,"b":138.5,"v":"Yes"},{"a":146.3,"b":147.3,"v":"Yes"},{"a":156.7,"b":157.7,"v":"Yes"},{"a":212.7,"b":213.8,"v":"Yes"}]},"mark":"rect","encoding":{"y":{"datum":"Distal_metastasis","type":"nominal","axis":null},"color":{"field":"v","type":"nominal","scale":{"domain":["No","Yes"],"range":["#E0F1F5","#1CB5C2"]},"legend":{"title":"Distal_metastasis","orient":"none","legendX":253,"legendY":561}}}},
{"data":{"values":[{"a":0,"b":162,"v":"No"},{"a":166.5,"b":245,"v":"No"},{"a":3,"b":4.3,"v":"Yes"},{"a":11.3,"b":12,"v":"Yes"},{"a":14.7,"b":15.5,"v":"Yes"},{"a":18.8,"b":19.7,"v":"Yes"},{"a":23.8,"b":24.3,"v":"Yes"},{"a":26,"b":26.8,"v":"Yes"},{"a":28,"b":28.8,"v":"Yes"},{"a":29.7,"b":31.3,"v":"Yes"},{"a":34.7,"b":35.5,"v":"Yes"},{"a":49.7,"b":51.7,"v":"Yes"},{"a":57,"b":58,"v":"Yes"},{"a":59.7,"b":60.5,"v":"Yes"},{"a":62.2,"b":63,"v":"Yes"},{"a":63.8,"b":65.5,"v":"Yes"},{"a":69.7,"b":70.5,"v":"Yes"},{"a":72.2,"b":73,"v":"Yes"},{"a":87.2,"b":88,"v":"Yes"},{"a":90.5,"b":92.2,"v":"Yes"},{"a":96.3,"b":97.2,"v":"Yes"},{"a":105,"b":105.5,"v":"Yes"},{"a":108.3,"b":109.7,"v":"Yes"},{"a":114.7,"b":115.5,"v":"Yes"},{"a":120.5,"b":123,"v":"Yes"},{"a":133,"b":133.8,"v":"Yes"},{"a":135.8,"b":138,"v":"Yes"},{"a":141.7,"b":143.3,"v":"Yes"},{"a":147.7,"b":148.3,"v":"Yes"},{"a":151.3,"b":152.2,"v":"Yes"},{"a":153.8,"b":155,"v":"Yes"},{"a":156.3,"b":157.7,"v":"Yes"},{"a":176.7,"b":182.3,"v":"Yes"},{"a":184.3,"b":185,"v":"Yes"},{"a":186.7,"b":188,"v":"Yes"},{"a":192.2,"b":193,"v":"Yes"},{"a":202.5,"b":203,"v":"Yes"},{"a":207,"b":207.8,"v":"Yes"},{"a":231,"b":232.3,"v":"Yes"},{"a":235.8,"b":236.3,"v":"Yes"}]},"mark":"rect","encoding":{"y":{"datum":"Perineural_invasion","type":"nominal","axis":null},"color":{"field":"v","type":"nominal","scale":{"domain":["No","Yes"],"range":["#7BC58A","#1E7A4A"]},"legend":{"title":"Perineural_invasion","orient":"none","legendX":386,"legendY":474}}}},
{"data":{"values":[{"a":0,"b":162,"v":"I-II"},{"a":166.5,"b":245,"v":"I-II"},{"a":0,"b":1,"v":"III-IV"},{"a":5,"b":6,"v":"III-IV"},{"a":9.7,"b":11.7,"v":"III-IV"},{"a":14.7,"b":16.3,"v":"III-IV"},{"a":19.7,"b":21,"v":"III-IV"},{"a":25.5,"b":28.8,"v":"III-IV"},{"a":33,"b":37,"v":"III-IV"},{"a":44.7,"b":48,"v":"III-IV"},{"a":70.5,"b":76,"v":"III-IV"},{"a":85,"b":88,"v":"III-IV"},{"a":92,"b":95,"v":"III-IV"},{"a":97,"b":100,"v":"III-IV"},{"a":107,"b":109,"v":"III-IV"},{"a":111,"b":112,"v":"III-IV"},{"a":115,"b":117,"v":"III-IV"},{"a":121,"b":122,"v":"III-IV"},{"a":125,"b":128,"v":"III-IV"},{"a":137,"b":141,"v":"III-IV"},{"a":146.7,"b":153.8,"v":"III-IV"},{"a":156.3,"b":158,"v":"III-IV"},{"a":176.7,"b":181.7,"v":"III-IV"},{"a":188,"b":191.3,"v":"III-IV"},{"a":195.5,"b":196.3,"v":"III-IV"},{"a":197.7,"b":198.3,"v":"III-IV"},{"a":203,"b":203.8,"v":"III-IV"},{"a":233,"b":233.8,"v":"III-IV"},{"a":236,"b":239,"v":"III-IV"},{"a":242,"b":245,"v":"III-IV"}]},"mark":"rect","encoding":{"y":{"datum":"TNM_stage","type":"nominal","axis":null},"color":{"field":"v","type":"nominal","scale":{"domain":["I-II","III-IV"],"range":["#C2DFB5","#96C596"]},"legend":{"title":"TNM_stage","orient":"none","legendX":386,"legendY":517}}}},
{"data":{"values":[{"a":0,"b":162,"v":"<20.4 μmol/L"},{"a":166.5,"b":245,"v":"<20.4 μmol/L"},{"a":13,"b":13.7,"v":"≥20.4 μmol/L"},{"a":15,"b":16,"v":"≥20.4 μmol/L"},{"a":39.7,"b":40.5,"v":"≥20.4 μmol/L"},{"a":81,"b":82.2,"v":"≥20.4 μmol/L"},{"a":89.3,"b":90.3,"v":"≥20.4 μmol/L"},{"a":105.5,"b":106.7,"v":"≥20.4 μmol/L"},{"a":108.5,"b":110.3,"v":"≥20.4 μmol/L"},{"a":118,"b":118.7,"v":"≥20.4 μmol/L"},{"a":131.8,"b":133,"v":"≥20.4 μmol/L"},{"a":142.7,"b":143.3,"v":"≥20.4 μmol/L"},{"a":149.3,"b":150,"v":"≥20.4 μmol/L"},{"a":151.7,"b":152.5,"v":"≥20.4 μmol/L"},{"a":153.8,"b":154.8,"v":"≥20.4 μmol/L"},{"a":160.5,"b":161.3,"v":"≥20.4 μmol/L"},{"a":168.5,"b":169.8,"v":"≥20.4 μmol/L"},{"a":178.2,"b":179.3,"v":"≥20.4 μmol/L"},{"a":180.2,"b":181.5,"v":"≥20.4 μmol/L"},{"a":201.2,"b":202.3,"v":"≥20.4 μmol/L"},{"a":217.5,"b":218,"v":"≥20.4 μmol/L"},{"a":235.7,"b":236,"v":"≥20.4 μmol/L"},{"a":242,"b":242.7,"v":"≥20.4 μmol/L"}]},"mark":"rect","encoding":{"y":{"datum":"Total_bilirubin","type":"nominal","axis":null},"color":{"field":"v","type":"nominal","scale":{"domain":["<20.4 μmol/L","≥20.4 μmol/L"],"range":["#F2F2D8","#7EC4E5"]},"legend":{"title":"Total_bilirubin","orient":"none","legendX":386,"legendY":562}}}},
{"data":{"values":[{"a":0,"b":162,"v":"≥35 g/L"},{"a":166.5,"b":245,"v":"≥35 g/L"},{"a":4.3,"b":5.2,"v":"<35 g/L"},{"a":34.3,"b":36,"v":"<35 g/L"},{"a":73.5,"b":74.3,"v":"<35 g/L"},{"a":103,"b":103.5,"v":"<35 g/L"},{"a":115,"b":116.3,"v":"<35 g/L"}]},"mark":"rect","encoding":{"y":{"datum":"Albumin","type":"nominal","axis":null},"color":{"field":"v","type":"nominal","scale":{"domain":["<35 g/L","≥35 g/L"],"range":["#F8B4C4","#FDDEDE"]},"legend":{"title":"Albumin","orient":"none","legendX":469,"legendY":474}}}},
{"data":{"values":[{"a":0,"b":162,"v":"<25 ng/mL"},{"a":166.5,"b":245,"v":"<25 ng/mL"},{"a":1.7,"b":3,"v":"≥25 ng/mL"},{"a":18,"b":19.3,"v":"≥25 ng/mL"},{"a":34.7,"b":36.3,"v":"≥25 ng/mL"},{"a":38.8,"b":40,"v":"≥25 ng/mL"},{"a":42.7,"b":44.3,"v":"≥25 ng/mL"},{"a":93.8,"b":94.3,"v":"≥25 ng/mL"},{"a":99.7,"b":100.2,"v":"≥25 ng/mL"},{"a":110.5,"b":111.7,"v":"≥25 ng/mL"},{"a":116.3,"b":117,"v":"≥25 ng/mL"},{"a":123,"b":124.7,"v":"≥25 ng/mL"},{"a":127.2,"b":128,"v":"≥25 ng/mL"},{"a":130,"b":131.3,"v":"≥25 ng/mL"},{"a":153,"b":153.8,"v":"≥25 ng/mL"},{"a":181.7,"b":182.7,"v":"≥25 ng/mL"},{"a":190,"b":190.8,"v":"≥25 ng/mL"},{"a":209.3,"b":209.7,"v":"≥25 ng/mL"}]},"mark":"rect","encoding":{"y":{"datum":"AFP","type":"nominal","axis":null},"color":{"field":"v","type":"nominal","scale":{"domain":["<25 ng/mL","≥25 ng/mL"],"range":["#C3DD6E","#93C44F"]},"legend":{"title":"AFP","orient":"none","legendX":469,"legendY":519}}}},
{"data":{"values":[{"a":0,"b":162,"v":"<37 U/mL"},{"a":166.5,"b":245,"v":"<37 U/mL"},{"a":9.3,"b":15,"v":"≥37 U/mL"},{"a":16,"b":16.8,"v":"≥37 U/mL"},{"a":18,"b":19.3,"v":"≥37 U/mL"},{"a":20.5,"b":21.7,"v":"≥37 U/mL"},{"a":22.5,"b":32.2,"v":"≥37 U/mL"},{"a":35,"b":36.3,"v":"≥37 U/mL"},{"a":39.3,"b":44.7,"v":"≥37 U/mL"},{"a":49.3,"b":52.2,"v":"≥37 U/mL"},{"a":54.7,"b":63.8,"v":"≥37 U/mL"},{"a":65.2,"b":66.8,"v":"≥37 U/mL"},{"a":68,"b":71.3,"v":"≥37 U/mL"},{"a":75.5,"b":80.5,"v":"≥37 U/mL"},{"a":83.8,"b":87.2,"v":"≥37 U/mL"},{"a":90.5,"b":93.8,"v":"≥37 U/mL"},{"a":97.2,"b":101.3,"v":"≥37 U/mL"},{"a":107.2,"b":113,"v":"≥37 U/mL"},{"a":113.8,"b":118,"v":"≥37 U/mL"},{"a":123,"b":128,"v":"≥37 U/mL"},{"a":133,"b":139.3,"v":"≥37 U/mL"},{"a":141.3,"b":142.2,"v":"≥37 U/mL"},{"a":143,"b":146.3,"v":"≥37 U/mL"},{"a":147.7,"b":148.8,"v":"≥37 U/mL"},{"a":150.5,"b":153,"v":"≥37 U/mL"},{"a":154.7,"b":162,"v":"≥37 U/mL"},{"a":166.5,"b":167.2,"v":"≥37 U/mL"},{"a":169.7,"b":173.8,"v":"≥37 U/mL"},{"a":176.3,"b":181.3,"v":"≥37 U/mL"},{"a":184.7,"b":185.5,"v":"≥37 U/mL"},{"a":187.2,"b":188.8,"v":"≥37 U/mL"},{"a":196.7,"b":201.3,"v":"≥37 U/mL"},{"a":203,"b":204.7,"v":"≥37 U/mL"},{"a":208.8,"b":212.2,"v":"≥37 U/mL"},{"a":213.8,"b":217.2,"v":"≥37 U/mL"},{"a":224.3,"b":225,"v":"≥37 U/mL"},{"a":229.7,"b":234.7,"v":"≥37 U/mL"},{"a":236.3,"b":240.5,"v":"≥37 U/mL"},{"a":242.2,"b":245,"v":"≥37 U/mL"}]},"mark":"rect","encoding":{"y":{"datum":"CA19_9","type":"nominal","axis":null},"color":{"field":"v","type":"nominal","scale":{"domain":["<37 U/mL","≥37 U/mL"],"range":["#F6B8CE","#BE8CC4"]},"legend":{"title":"CA19_9","orient":"none","legendX":469,"legendY":564}}}},
{"data":{"values":[{"a":0,"b":162,"v":"<5 μg/L"},{"a":166.5,"b":245,"v":"<5 μg/L"},{"a":5,"b":6,"v":"≥5 μg/L"},{"a":7.2,"b":8,"v":"≥5 μg/L"},{"a":10,"b":11.3,"v":"≥5 μg/L"},{"a":13,"b":14.7,"v":"≥5 μg/L"},{"a":16,"b":17,"v":"≥5 μg/L"},{"a":21,"b":23,"v":"≥5 μg/L"},{"a":26,"b":27,"v":"≥5 μg/L"},{"a":31,"b":32.5,"v":"≥5 μg/L"},{"a":36,"b":37,"v":"≥5 μg/L"},{"a":45,"b":47,"v":"≥5 μg/L"},{"a":50,"b":53,"v":"≥5 μg/L"},{"a":56,"b":58,"v":"≥5 μg/L"},{"a":60,"b":65,"v":"≥5 μg/L"},{"a":67,"b":69,"v":"≥5 μg/L"},{"a":72,"b":75,"v":"≥5 μg/L"},{"a":78,"b":80,"v":"≥5 μg/L"},{"a":84,"b":88,"v":"≥5 μg/L"},{"a":93,"b":97,"v":"≥5 μg/L"},{"a":100,"b":101,"v":"≥5 μg/L"},{"a":104.7,"b":106.3,"v":"≥5 μg/L"},{"a":107.2,"b":108,"v":"≥5 μg/L"},{"a":110,"b":111.3,"v":"≥5 μg/L"},{"a":112.2,"b":113,"v":"≥5 μg/L"},{"a":113.3,"b":115,"v":"≥5 μg/L"},{"a":118,"b":119.7,"v":"≥5 μg/L"},{"a":125,"b":126,"v":"≥5 μg/L"},{"a":141.3,"b":144.7,"v":"≥5 μg/L"},{"a":149.7,"b":150.5,"v":"≥5 μg/L"},{"a":152.2,"b":153.8,"v":"≥5 μg/L"},{"a":166.5,"b":168.5,"v":"≥5 μg/L"},{"a":170.5,"b":171,"v":"≥5 μg/L"},{"a":176,"b":176.5,"v":"≥5 μg/L"},{"a":182.7,"b":183,"v":"≥5 μg/L"},{"a":195.5,"b":196,"v":"≥5 μg/L"}]},"mark":"rect","encoding":{"y":{"datum":"CEA","type":"nominal","axis":null},"color":{"field":"v","type":"nominal","scale":{"domain":["<5 μg/L","≥5 μg/L"],"range":["#6A5DAE","#3F2A86"]},"legend":{"title":"CEA","orient":"none","legendX":529,"legendY":474}}}},
{"data":{"values":[{"a":0,"b":162,"v":"<40 U/mL"},{"a":166.5,"b":245,"v":"<40 U/mL"},{"a":3,"b":4.3,"v":"≥40 U/mL"},{"a":10,"b":10.5,"v":"≥40 U/mL"},{"a":14.7,"b":16,"v":"≥40 U/mL"},{"a":18,"b":18.5,"v":"≥40 U/mL"},{"a":26.3,"b":27.2,"v":"≥40 U/mL"},{"a":29.7,"b":31.3,"v":"≥40 U/mL"},{"a":33,"b":33.8,"v":"≥40 U/mL"},{"a":35.5,"b":36.3,"v":"≥40 U/mL"},{"a":39.7,"b":40.5,"v":"≥40 U/mL"},{"a":46.3,"b":47.2,"v":"≥40 U/mL"},{"a":49.7,"b":50.2,"v":"≥40 U/mL"},{"a":53,"b":53.8,"v":"≥40 U/mL"},{"a":62.2,"b":62.7,"v":"≥40 U/mL"},{"a":72.7,"b":73.8,"v":"≥40 U/mL"},{"a":74.7,"b":76,"v":"≥40 U/mL"},{"a":82.2,"b":83,"v":"≥40 U/mL"},{"a":84.7,"b":86.3,"v":"≥40 U/mL"},{"a":95.5,"b":99.3,"v":"≥40 U/mL"},{"a":107.2,"b":110.5,"v":"≥40 U/mL"},{"a":113.8,"b":114.3,"v":"≥40 U/mL"},{"a":117.2,"b":117.7,"v":"≥40 U/mL"},{"a":123,"b":123.5,"v":"≥40 U/mL"},{"a":133.3,"b":133.8,"v":"≥40 U/mL"},{"a":149.7,"b":150.2,"v":"≥40 U/mL"},{"a":152.2,"b":154.7,"v":"≥40 U/mL"},{"a":188,"b":189,"v":"≥40 U/mL"},{"a":196.7,"b":197.2,"v":"≥40 U/mL"},{"a":221,"b":222.3,"v":"≥40 U/mL"},{"a":223.8,"b":224.3,"v":"≥40 U/mL"},{"a":236,"b":238,"v":"≥40 U/mL"},{"a":242.3,"b":243,"v":"≥40 U/mL"}]},"mark":"rect","encoding":{"y":{"datum":"ALT","type":"nominal","axis":null},"color":{"field":"v","type":"nominal","scale":{"domain":["<40 U/mL","≥40 U/mL"],"range":["#5F8FD6","#162A60"]},"legend":{"title":"ALT","orient":"none","legendX":529,"legendY":519}}}},
{"data":{"values":[{"a":0,"b":162,"v":"<50 U/L"},{"a":166.5,"b":245,"v":"<50 U/L"},{"a":2,"b":3,"v":"≥50 U/L"},{"a":8,"b":9.3,"v":"≥50 U/L"},{"a":11,"b":12,"v":"≥50 U/L"},{"a":15,"b":18,"v":"≥50 U/L"},{"a":20.5,"b":22,"v":"≥50 U/L"},{"a":24,"b":26,"v":"≥50 U/L"},{"a":28,"b":29,"v":"≥50 U/L"},{"a":32,"b":35,"v":"≥50 U/L"},{"a":37,"b":38.5,"v":"≥50 U/L"},{"a":42,"b":45,"v":"≥50 U/L"},{"a":47,"b":49,"v":"≥50 U/L"},{"a":52,"b":55,"v":"≥50 U/L"},{"a":59,"b":61,"v":"≥50 U/L"},{"a":68,"b":75,"v":"≥50 U/L"},{"a":78,"b":81,"v":"≥50 U/L"},{"a":85,"b":87,"v":"≥50 U/L"},{"a":90,"b":94,"v":"≥50 U/L"},{"a":96,"b":98,"v":"≥50 U/L"},{"a":112,"b":115.5,"v":"≥50 U/L"},{"a":116.3,"b":118.3,"v":"≥50 U/L"},{"a":127.2,"b":130,"v":"≥50 U/L"},{"a":133,"b":137,"v":"≥50 U/L"},{"a":140,"b":146.3,"v":"≥50 U/L"},{"a":148,"b":151.3,"v":"≥50 U/L"},{"a":153,"b":156,"v":"≥50 U/L"},{"a":166.5,"b":167.2,"v":"≥50 U/L"},{"a":169.7,"b":171.3,"v":"≥50 U/L"},{"a":176.3,"b":178,"v":"≥50 U/L"},{"a":182.2,"b":183,"v":"≥50 U/L"},{"a":185.5,"b":188,"v":"≥50 U/L"},{"a":189.7,"b":193,"v":"≥50 U/L"},{"a":194.7,"b":197.7,"v":"≥50 U/L"},{"a":199.7,"b":203,"v":"≥50 U/L"},{"a":205.5,"b":207.2,"v":"≥50 U/L"},{"a":209.7,"b":211.3,"v":"≥50 U/L"},{"a":218,"b":219.7,"v":"≥50 U/L"},{"a":229.7,"b":235.5,"v":"≥50 U/L"},{"a":238,"b":240.5,"v":"≥50 U/L"}]},"mark":"rect","encoding":{"y":{"datum":"γ_GT","type":"nominal","axis":null},"color":{"field":"v","type":"nominal","scale":{"domain":["<50 U/L","≥50 U/L"],"range":["#85CBB0","#2E7D5F"]},"legend":{"title":"Y_GT","orient":"none","legendX":527,"legendY":563}}}},
{"data":{"values":[{"a":0,"b":162,"v":"No"},{"a":166.5,"b":245,"v":"No"},{"a":10,"b":10.5,"v":"Yes"},{"a":16.3,"b":18,"v":"Yes"},{"a":21.3,"b":22.2,"v":"Yes"},{"a":25,"b":26.3,"v":"Yes"},{"a":29.7,"b":31.3,"v":"Yes"},{"a":36.3,"b":38,"v":"Yes"},{"a":41.3,"b":42.2,"v":"Yes"},{"a":58,"b":59.7,"v":"Yes"},{"a":67.7,"b":68.8,"v":"Yes"},{"a":71.3,"b":72.2,"v":"Yes"},{"a":78,"b":79.7,"v":"Yes"},{"a":93.8,"b":94.5,"v":"Yes"},{"a":98,"b":99,"v":"Yes"},{"a":105.5,"b":106.3,"v":"Yes"},{"a":115,"b":117.2,"v":"Yes"},{"a":126.3,"b":127.2,"v":"Yes"},{"a":130,"b":132.7,"v":"Yes"},{"a":136,"b":136.8,"v":"Yes"},{"a":143,"b":144.3,"v":"Yes"},{"a":149.3,"b":150,"v":"Yes"},{"a":151.7,"b":152.3,"v":"Yes"},{"a":154.3,"b":156,"v":"Yes"},{"a":188,"b":190.8,"v":"Yes"},{"a":208.8,"b":211.3,"v":"Yes"},{"a":233.8,"b":234.3,"v":"Yes"},{"a":242.2,"b":244.3,"v":"Yes"},{"a":14.7,"b":15.5,"v":"NA"},{"a":19.7,"b":20.5,"v":"NA"},{"a":91.3,"b":92.2,"v":"NA"},{"a":168.5,"b":169.7,"v":"NA"},{"a":184.3,"b":184.8,"v":"NA"},{"a":201.3,"b":202.3,"v":"NA"}]},"mark":"rect","encoding":{"y":{"datum":"TP53_mutations","type":"nominal","axis":null},"color":{"field":"v","type":"nominal","scale":{"domain":["No","Yes","NA"],"range":["#EFA91F","#F47B20","#BDBDBD"]},"legend":{"values":["No","Yes"],"title":"TP53_mutations","titleFontWeight":"bold","orient":"none","legendX":588,"legendY":476}}}},
{"data":{"values":[{"a":0,"b":162,"v":"No"},{"a":166.5,"b":245,"v":"No"},{"a":19.7,"b":20.5,"v":"Yes"},{"a":26.3,"b":27.2,"v":"Yes"},{"a":28.3,"b":30,"v":"Yes"},{"a":31.3,"b":32.5,"v":"Yes"},{"a":36.3,"b":37.2,"v":"Yes"},{"a":39.7,"b":41.3,"v":"Yes"},{"a":49.7,"b":51.3,"v":"Yes"},{"a":64.7,"b":66.3,"v":"Yes"},{"a":78,"b":79.7,"v":"Yes"},{"a":93,"b":95.5,"v":"Yes"},{"a":97.2,"b":99.7,"v":"Yes"},{"a":125.5,"b":127.2,"v":"Yes"},{"a":129.7,"b":131.3,"v":"Yes"},{"a":138,"b":138.8,"v":"Yes"},{"a":141.7,"b":142.7,"v":"Yes"},{"a":150,"b":153,"v":"Yes"},{"a":238.8,"b":240.5,"v":"Yes"},{"a":14.7,"b":15.5,"v":"NA"},{"a":20.3,"b":21.3,"v":"NA"},{"a":91.3,"b":92.2,"v":"NA"},{"a":168.5,"b":169.7,"v":"NA"},{"a":184.3,"b":184.8,"v":"NA"},{"a":201.3,"b":202.3,"v":"NA"}]},"mark":"rect","encoding":{"y":{"datum":"KRAS_mutations","type":"nominal","axis":null},"color":{"field":"v","type":"nominal","scale":{"domain":["No","Yes","NA"],"range":["#0F6630","#6E8B35","#BDBDBD"]},"legend":{"values":["No","Yes"],"title":"KRAS_mutations","titleFontWeight":"bold","orient":"none","legendX":588,"legendY":518}}}},
{"data":{"values":[{"a":0,"b":162,"v":"S2"},{"a":166.5,"b":245,"v":"S2"},{"a":1,"b":3,"v":"S3"},{"a":3,"b":5,"v":"NA"},{"a":5,"b":7,"v":"S4"},{"a":10,"b":12,"v":"NA"},{"a":12,"b":16,"v":"S1"},{"a":16,"b":18,"v":"S3"},{"a":18,"b":20,"v":"S4"},{"a":25,"b":27,"v":"NA"},{"a":33,"b":36,"v":"S3"},{"a":38,"b":40,"v":"S4"},{"a":42,"b":45,"v":"NA"},{"a":46,"b":49,"v":"S4"},{"a":52,"b":55,"v":"S3"},{"a":56,"b":58,"v":"NA"},{"a":60,"b":62,"v":"S4"},{"a":64,"b":66,"v":"S4"},{"a":67,"b":70,"v":"NA"},{"a":71,"b":73,"v":"S3"},{"a":75,"b":79,"v":"S4"},{"a":81,"b":83,"v":"NA"},{"a":84,"b":86,"v":"S4"},{"a":88,"b":90,"v":"NA"},{"a":91,"b":94,"v":"S3"},{"a":95,"b":97,"v":"S4"},{"a":98,"b":100,"v":"NA"},{"a":103,"b":106,"v":"NA"},{"a":110,"b":113,"v":"S3"},{"a":115.5,"b":118,"v":"NA"},{"a":123,"b":127,"v":"S4"},{"a":128,"b":131,"v":"S3"},{"a":143,"b":147.7,"v":"NA"},{"a":148,"b":150.5,"v":"S4"},{"a":153,"b":156,"v":"S3"},{"a":158,"b":160.5,"v":"S4"},{"a":172,"b":177,"v":"S4"},{"a":179,"b":181,"v":"S4"},{"a":185,"b":186,"v":"S4"},{"a":188,"b":191,"v":"S4"},{"a":193,"b":196,"v":"S4"},{"a":198,"b":201,"v":"S4"},{"a":204,"b":206,"v":"S4"},{"a":208,"b":210,"v":"S4"},{"a":212,"b":218,"v":"S4"},{"a":221,"b":224,"v":"S4"},{"a":226,"b":236,"v":"S4"},{"a":238,"b":241,"v":"S4"},{"a":168.5,"b":169.7,"v":"NA"},{"a":184.3,"b":184.8,"v":"NA"},{"a":201.3,"b":202.3,"v":"NA"},{"a":242,"b":243,"v":"NA"}]},"mark":"rect","encoding":{"y":{"datum":"Proteomics_subtypes","type":"nominal","axis":null},"color":{"field":"v","type":"nominal","scale":{"domain":["S1","S2","S3","S4","NA"],"range":["#EFF8F1","#FDDEDE","#C4909A","#D85C8C","#BDBDBD"]},"legend":{"values":["S1","S2","S3","S4"],"title":"Proteomics_subgroups","titleFontWeight":"bold","symbolSize":49,"labelFontSize":7,"rowPadding":0.6,"titlePadding":1,"orient":"none","legendX":587,"legendY":561}}}},
{"data":{"values":[{"a":246.5,"t":"Cluster","s":"P value"}]},"mark":{"type":"text","align":"left","fontSize":8.5,"color":"#222"},"encoding":{"y":{"field":"t","type":"nominal","axis":null},"text":{"field":"s"}}},
{"data":{"values":[{"a":246.5,"t":"Biliary_tract_stone_disease","s":"*"},{"a":246.5,"t":"Vascular_invasion","s":"**"},{"a":246.5,"t":"Regional_lymph_Node_metastasis","s":"**"},{"a":246.5,"t":"Perineural_invasion","s":"**"},{"a":246.5,"t":"TNM_stage","s":"**"},{"a":246.5,"t":"CA19_9","s":"***"},{"a":246.5,"t":"CEA","s":"****"},{"a":246.5,"t":"ALT","s":"*"},{"a":246.5,"t":"TP53_mutations","s":"**"},{"a":246.5,"t":"KRAS_mutations","s":"****"},{"a":246.5,"t":"Proteomics_subtypes","s":"****"}]},"mark":{"type":"text","align":"left","fontSize":8,"color":"#555","dy":2},"encoding":{"y":{"field":"t","type":"nominal","axis":null},"text":{"field":"s"}}},
{"data":{"values":[{"a":-57,"t":"Cluster","s":"C"}]},"mark":{"type":"text","fontSize":14,"align":"left","color":"#222","dy":-9},"encoding":{"y":{"field":"t","type":"nominal","axis":null},"text":{"field":"s"}}}
]},
{"resolve":{"scale":{"color":"independent"},"axis":{"y":"independent"}},
"encoding":{"x":{"field":"a","type":"quantitative","scale":{"domain":[0,168],"range":[79,415],"nice":false,"zero":false},"axis":null},"x2":{"field":"b"}},
"layer":[
{"data":{"values":[{"a":0,"b":106.8,"v":"1"},{"a":110.5,"b":168,"v":"2"}]},"mark":"rect","encoding":{"y":{"datum":"Cluster","type":"nominal","scale":{"domain":["Cluster","Age","Sex","HBV","T","N","M","TNM_stage","TP53_mutations","KRAS_mutations","Integrative_subtypes","Histology","Anatomical_subtype"],"range":[616,772],"paddingInner":0.07,"paddingOuter":0.03},"axis":{"orient":"left","offset":-76,"title":null,"domain":false,"ticks":false,"labelFontSize":8.1,"labelPadding":0,"labelLimit":200,"labelColor":"#333"}},"color":{"field":"v","type":"nominal","scale":{"domain":["1","2"],"range":["#E57A7C","#1A4A8A"]},"legend":{"title":"Cluster","orient":"none","legendX":30,"legendY":785,"labelFont":"DejaVu Sans","titleFont":"DejaVu Sans","labelFontSize":7.8,"titleFontSize":7.2,"symbolSize":64,"rowPadding":0.5,"titlePadding":3}}}},
{"data":{"values":[{"a":0,"b":106.8,"v":"≤60cm"},{"a":110.5,"b":168,"v":"≤60cm"},{"a":5.5,"b":10,"v":">60cm"},{"a":14,"b":16.3,"v":">60cm"},{"a":18,"b":20,"v":">60cm"},{"a":21.3,"b":31.3,"v":">60cm"},{"a":33,"b":38,"v":">60cm"},{"a":38.8,"b":43.3,"v":">60cm"},{"a":54.7,"b":57.2,"v":">60cm"},{"a":58.8,"b":62.5,"v":">60cm"},{"a":67.2,"b":70.5,"v":">60cm"},{"a":71.3,"b":77.2,"v":">60cm"},{"a":84.7,"b":89.7,"v":">60cm"},{"a":92.2,"b":98.8,"v":">60cm"},{"a":103.8,"b":106.8,"v":">60cm"},{"a":117.2,"b":130.5,"v":">60cm"},{"a":132.2,"b":138.8,"v":">60cm"},{"a":142.2,"b":144.7,"v":">60cm"},{"a":147,"b":149.7,"v":">60cm"},{"a":155.5,"b":159.7,"v":">60cm"},{"a":163,"b":166.3,"v":">60cm"}]},"mark":"rect","encoding":{"y":{"datum":"Age","type":"nominal","axis":null},"color":{"field":"v","type":"nominal","scale":{"domain":["≤60cm",">60cm"],"range":["#A3D39C","#74C17A"]},"legend":{"title":"Age","orient":"none","legendX":30,"legendY":819,"labelFont":"DejaVu Sans","titleFont":"DejaVu Sans","labelFontSize":7.8,"titleFontSize":7.2,"symbolSize":64,"rowPadding":0.5,"titlePadding":3}}}},
{"data":{"values":[{"a":0,"b":106.8,"v":"Male"},{"a":110.5,"b":168,"v":"Male"},{"a":1.3,"b":2.7,"v":"Female"},{"a":4.2,"b":7.2,"v":"Female"},{"a":8.5,"b":13,"v":"Female"},{"a":27.2,"b":35.8,"v":"Female"},{"a":38.5,"b":44.5,"v":"Female"},{"a":48.8,"b":50.2,"v":"Female"},{"a":54.3,"b":56,"v":"Female"},{"a":58.8,"b":60.5,"v":"Female"},{"a":63,"b":70.5,"v":"Female"},{"a":76,"b":77.5,"v":"Female"},{"a":87.5,"b":89.2,"v":"Female"},{"a":91.8,"b":93.5,"v":"Female"},{"a":98.8,"b":100.8,"v":"Female"},{"a":101.8,"b":103.5,"v":"Female"},{"a":104.8,"b":106.8,"v":"Female"},{"a":110.5,"b":112.2,"v":"Female"},{"a":113.3,"b":114.7,"v":"Female"},{"a":117.2,"b":120.2,"v":"Female"},{"a":121.8,"b":124.8,"v":"Female"},{"a":126,"b":128.8,"v":"Female"},{"a":130.5,"b":134.7,"v":"Female"},{"a":136.3,"b":139.2,"v":"Female"},{"a":143.5,"b":145,"v":"Female"},{"a":146.3,"b":152.2,"v":"Female"},{"a":158,"b":160.5,"v":"Female"},{"a":163.5,"b":168,"v":"Female"}]},"mark":"rect","encoding":{"y":{"datum":"Sex","type":"nominal","axis":null},"color":{"field":"v","type":"nominal","scale":{"domain":["Male","Female"],"range":["#FDE0DD","#CF5F8A"]},"legend":{"title":"Sex","orient":"none","legendX":30,"legendY":852,"labelFont":"DejaVu Sans","titleFont":"DejaVu Sans","labelFontSize":7.8,"titleFontSize":7.2,"symbolSize":64,"rowPadding":0.5,"titlePadding":3}}}},
{"data":{"values":[{"a":0,"b":106.8,"v":"No"},{"a":110.5,"b":168,"v":"No"},{"a":20.2,"b":23,"v":"NA"},{"a":25.2,"b":26.8,"v":"NA"},{"a":28.8,"b":30.2,"v":"NA"},{"a":33,"b":34.3,"v":"NA"},{"a":40.5,"b":45.8,"v":"NA"},{"a":52.2,"b":53.5,"v":"NA"},{"a":57.2,"b":63.3,"v":"NA"},{"a":66.3,"b":67.5,"v":"NA"},{"a":71.8,"b":83.5,"v":"NA"},{"a":86.3,"b":87.5,"v":"NA"},{"a":92.2,"b":98.8,"v":"NA"},{"a":100.5,"b":106.3,"v":"NA"},{"a":38.8,"b":40.5,"v":"Yes"},{"a":53.5,"b":56.3,"v":"Yes"},{"a":133.3,"b":135.2,"v":"Yes"},{"a":137.5,"b":139.2,"v":"Yes"},{"a":140.5,"b":142.2,"v":"Yes"},{"a":143,"b":144.7,"v":"Yes"},{"a":146.3,"b":148,"v":"Yes"},{"a":153,"b":155,"v":"Yes"},{"a":160.5,"b":163.5,"v":"Yes"},{"a":135.2,"b":137.5,"v":"NA"},{"a":139.2,"b":140.5,"v":"NA"},{"a":148,"b":153,"v":"NA"},{"a":155,"b":156.3,"v":"NA"},{"a":166.3,"b":168,"v":"NA"}]},"mark":"rect","encoding":{"y":{"datum":"HBV","type":"nominal","axis":null},"color":{"field":"v","type":"nominal","scale":{"domain":["No","Yes","NA"],"range":["#97C230","#5E8A2E","#BDBDBD"]},"legend":{"values":["No","Yes"],"title":"HBV","orient":"none","legendX":90,"legendY":785,"labelFont":"DejaVu Sans","titleFont":"DejaVu Sans","labelFontSize":7.8,"titleFontSize":7.2,"symbolSize":64,"rowPadding":0.5,"titlePadding":3}}}},
{"data":{"values":[{"a":0,"b":106.8,"v":">5cm"},{"a":110.5,"b":168,"v":">5cm"},{"a":10,"b":11.3,"v":"≤5cm"},{"a":13,"b":14.2,"v":"≤5cm"},{"a":16.3,"b":18.8,"v":"≤5cm"},{"a":21.7,"b":28,"v":"≤5cm"},{"a":30.2,"b":33,"v":"≤5cm"},{"a":34.7,"b":45.8,"v":"≤5cm"},{"a":60.5,"b":67.2,"v":"≤5cm"},{"a":72.2,"b":76.3,"v":"≤5cm"},{"a":84.7,"b":86.3,"v":"≤5cm"},{"a":93,"b":97.2,"v":"≤5cm"},{"a":102.2,"b":103.5,"v":"≤5cm"},{"a":110.5,"b":113.3,"v":"≤5cm"},{"a":124.5,"b":127.2,"v":"≤5cm"},{"a":128,"b":133,"v":"≤5cm"},{"a":135.2,"b":138.8,"v":"≤5cm"},{"a":142.2,"b":147,"v":"≤5cm"},{"a":153.8,"b":167,"v":"≤5cm"},{"a":21.3,"b":23,"v":"NA"},{"a":27.5,"b":28.8,"v":"NA"},{"a":33,"b":34.2,"v":"NA"},{"a":131.5,"b":133,"v":"NA"}]},"mark":"rect","encoding":{"y":{"datum":"T","type":"nominal","axis":null},"color":{"field":"v","type":"nominal","scale":{"domain":["≤5cm",">5cm","NA"],"range":["#DFF1F7","#AED8F5","#BDBDBD"]},"legend":{"values":["≤5cm",">5cm"],"title":"T","orient":"none","legendX":90,"legendY":819,"labelFont":"DejaVu Sans","titleFont":"DejaVu Sans","labelFontSize":7.8,"titleFontSize":7.2,"symbolSize":64,"rowPadding":0.5,"titlePadding":3}}}},
{"data":{"values":[{"a":0,"b":106.8,"v":"No"},{"a":110.5,"b":168,"v":"No"},{"a":0.3,"b":1.2,"v":"NA"},{"a":4.7,"b":8.8,"v":"NA"},{"a":12.2,"b":13.8,"v":"NA"},{"a":18,"b":23,"v":"NA"},{"a":3,"b":4.3,"v":"Yes"},{"a":9.7,"b":12.2,"v":"Yes"},{"a":14.3,"b":17.5,"v":"Yes"},{"a":23,"b":26.3,"v":"Yes"},{"a":27.5,"b":28.8,"v":"Yes"},{"a":31.7,"b":35.8,"v":"Yes"},{"a":40.5,"b":41.8,"v":"Yes"},{"a":43,"b":46.3,"v":"Yes"},{"a":53,"b":54.3,"v":"Yes"},{"a":58.8,"b":60,"v":"Yes"},{"a":62.2,"b":63.5,"v":"Yes"},{"a":67.5,"b":69.2,"v":"Yes"},{"a":71.8,"b":77.5,"v":"Yes"},{"a":87.5,"b":90.5,"v":"Yes"},{"a":92,"b":93.5,"v":"Yes"},{"a":105,"b":106.8,"v":"Yes"},{"a":110.5,"b":112.2,"v":"NA"},{"a":113,"b":115.5,"v":"NA"},{"a":127.2,"b":130.5,"v":"NA"},{"a":120.5,"b":123.5,"v":"Yes"},{"a":130.5,"b":132,"v":"Yes"},{"a":143.8,"b":145.2,"v":"Yes"},{"a":156.3,"b":158,"v":"Yes"},{"a":160.5,"b":162.2,"v":"Yes"}]},"mark":"rect","encoding":{"y":{"datum":"N","type":"nominal","axis":null},"color":{"field":"v","type":"nominal","scale":{"domain":["No","Yes","NA"],"range":["#F5B9C9","#C4839A","#BDBDBD"]},"legend":{"values":["No","Yes"],"title":"N","orient":"none","legendX":90,"legendY":852,"labelFont":"DejaVu Sans","titleFont":"DejaVu Sans","labelFontSize":7.8,"titleFontSize":7.2,"symbolSize":64,"rowPadding":0.5,"titlePadding":3}}}},
{"data":{"values":[{"a":0,"b":106.8,"v":"No"},{"a":110.5,"b":168,"v":"No"},{"a":1.5,"b":3,"v":"Yes"},{"a":10.2,"b":11.5,"v":"Yes"},{"a":73.3,"b":76,"v":"Yes"},{"a":77.5,"b":79,"v":"Yes"},{"a":100.5,"b":102,"v":"Yes"},{"a":21.7,"b":23,"v":"NA"},{"a":27.5,"b":28.8,"v":"NA"},{"a":33.2,"b":34.5,"v":"NA"},{"a":124.5,"b":126.2,"v":"NA"},{"a":132.2,"b":133.5,"v":"NA"},{"a":156.7,"b":158,"v":"Yes"},{"a":159,"b":160.5,"v":"Yes"},{"a":163.5,"b":164.8,"v":"Yes"}]},"mark":"rect","encoding":{"y":{"datum":"M","type":"nominal","axis":null},"color":{"field":"v","type":"nominal","scale":{"domain":["No","Yes","NA"],"range":["#E0F1F5","#1CB5C2","#BDBDBD"]},"legend":{"values":["No","Yes"],"title":"M","orient":"none","legendX":143,"legendY":785,"labelFont":"DejaVu Sans","titleFont":"DejaVu Sans","labelFontSize":7.8,"titleFontSize":7.2,"symbolSize":64,"rowPadding":0.5,"titlePadding":3}}}},
{"data":{"values":[{"a":0,"b":106.8,"v":"III-IV"},{"a":110.5,"b":132,"v":"III-IV"},{"a":132,"b":168,"v":"I-II"},{"a":0,"b":1.2,"v":"I-II"},{"a":13,"b":17.5,"v":"I-II"},{"a":23.8,"b":25.5,"v":"I-II"},{"a":28.8,"b":30.5,"v":"I-II"},{"a":36.3,"b":38.8,"v":"I-II"},{"a":63,"b":67.2,"v":"I-II"},{"a":78.8,"b":83.8,"v":"I-II"},{"a":88,"b":90.2,"v":"I-II"},{"a":93.8,"b":98,"v":"I-II"},{"a":103.8,"b":105.5,"v":"I-II"},{"a":113,"b":123.5,"v":"I-II"},{"a":137,"b":140,"v":"III-IV"},{"a":146,"b":148,"v":"III-IV"},{"a":155,"b":157,"v":"III-IV"},{"a":4.7,"b":7.2,"v":"NA"},{"a":21.3,"b":23,"v":"NA"},{"a":27.5,"b":28.8,"v":"NA"},{"a":33.2,"b":34.5,"v":"NA"},{"a":110.5,"b":112.5,"v":"NA"},{"a":124,"b":126.5,"v":"NA"},{"a":132.2,"b":134,"v":"NA"},{"a":143.5,"b":145,"v":"NA"}]},"mark":"rect","encoding":{"y":{"datum":"TNM_stage","type":"nominal","axis":null},"color":{"field":"v","type":"nominal","scale":{"domain":["I-II","III-IV","NA"],"range":["#C2DFB5","#96C596","#BDBDBD"]},"legend":{"values":["I-II","III-IV"],"title":"TNM_stage","orient":"none","legendX":143,"legendY":820,"labelFont":"DejaVu Sans","titleFont":"DejaVu Sans","labelFontSize":7.8,"titleFontSize":7.2,"symbolSize":64,"rowPadding":0.5,"titlePadding":3}}}},
{"data":{"values":[{"a":0,"b":106.8,"v":"No"},{"a":110.5,"b":168,"v":"No"},{"a":3,"b":4.2,"v":"NA"},{"a":18.5,"b":24.2,"v":"NA"},{"a":32.5,"b":33.8,"v":"NA"},{"a":4.2,"b":7.2,"v":"Yes"},{"a":10,"b":11.3,"v":"Yes"},{"a":12.5,"b":15.5,"v":"Yes"},{"a":30.2,"b":32.5,"v":"Yes"},{"a":35.5,"b":36.8,"v":"Yes"},{"a":38.8,"b":40.5,"v":"Yes"},{"a":44.2,"b":45.5,"v":"Yes"},{"a":46.8,"b":48,"v":"Yes"},{"a":51.3,"b":60,"v":"Yes"},{"a":67.2,"b":70.2,"v":"Yes"},{"a":71.3,"b":74.7,"v":"Yes"},{"a":77.5,"b":80.5,"v":"Yes"},{"a":84.2,"b":85.5,"v":"Yes"},{"a":87.5,"b":90.2,"v":"Yes"},{"a":98.8,"b":106.8,"v":"Yes"},{"a":126,"b":127.5,"v":"NA"},{"a":155,"b":160.5,"v":"NA"},{"a":127.5,"b":128.8,"v":"Yes"},{"a":133.3,"b":134.7,"v":"Yes"},{"a":149.3,"b":150.7,"v":"Yes"}]},"mark":"rect","encoding":{"y":{"datum":"TP53_mutations","type":"nominal","axis":null},"color":{"field":"v","type":"nominal","scale":{"domain":["No","Yes","NA"],"range":["#FDF3E4","#F5936B","#BDBDBD"]},"legend":{"values":["No","Yes"],"title":"TP53_mutations","titleFontWeight":"bold","orient":"none","legendX":144,"legendY":855,"labelFont":"DejaVu Sans","titleFont":"DejaVu Sans","labelFontSize":7.8,"titleFontSize":7.2,"symbolSize":42,"rowPadding":-1,"titlePadding":1}}}},
{"data":{"values":[{"a":0,"b":106.8,"v":"No"},{"a":110.5,"b":168,"v":"No"},{"a":0,"b":3,"v":"Yes"},{"a":4.2,"b":7.5,"v":"Yes"},{"a":15.8,"b":18,"v":"Yes"},{"a":30.5,"b":32.5,"v":"Yes"},{"a":51,"b":60.2,"v":"Yes"},{"a":67.2,"b":70.5,"v":"Yes"},{"a":77.2,"b":80.5,"v":"Yes"},{"a":89,"b":106.8,"v":"Yes"},{"a":3,"b":4.2,"v":"NA"},{"a":18.5,"b":24,"v":"NA"},{"a":32.5,"b":33.8,"v":"NA"},{"a":126,"b":127.2,"v":"NA"},{"a":155,"b":160.5,"v":"NA"},{"a":127.2,"b":128,"v":"Yes"},{"a":133.3,"b":134.3,"v":"Yes"}]},"mark":"rect","encoding":{"y":{"datum":"KRAS_mutations","type":"nominal","axis":null},"color":{"field":"v","type":"nominal","scale":{"domain":["No","Yes","NA"],"range":["#6A5DAE","#3F2A86","#BDBDBD"]},"legend":{"values":["No","Yes"],"title":"KRAS_mutations","titleFontWeight":"bold","orient":"none","legendX":213,"legendY":785,"labelFont":"DejaVu Sans","titleFont":"DejaVu Sans","labelFontSize":7.8,"titleFontSize":7.2,"symbolSize":49,"rowPadding":-1,"titlePadding":2}}}},
{"data":{"values":[{"a":0,"b":106.8,"v":"1"},{"a":110.5,"b":168,"v":"4"},{"a":0,"b":3.5,"v":"4"},{"a":3.5,"b":4.7,"v":"3"},{"a":7.2,"b":10.2,"v":"4"},{"a":11.3,"b":18.5,"v":"2"},{"a":18.5,"b":24,"v":"NA"},{"a":24.2,"b":28,"v":"2"},{"a":28.3,"b":30,"v":"3"},{"a":30,"b":34,"v":"2"},{"a":32.5,"b":33.8,"v":"NA"},{"a":42.5,"b":45.5,"v":"NA"},{"a":53.8,"b":55.5,"v":"NA"},{"a":60.5,"b":61.7,"v":"2"},{"a":63.8,"b":65,"v":"2"},{"a":66.8,"b":68.5,"v":"3"},{"a":68.5,"b":70,"v":"2"},{"a":70.8,"b":75.5,"v":"NA"},{"a":84.7,"b":86,"v":"NA"},{"a":88,"b":89.2,"v":"NA"},{"a":93,"b":94.7,"v":"NA"},{"a":94.7,"b":96,"v":"2"},{"a":96,"b":97.2,"v":"3"},{"a":98,"b":99.7,"v":"2"},{"a":102.5,"b":106.8,"v":"NA"},{"a":118,"b":119.2,"v":"3"},{"a":126,"b":127.7,"v":"NA"},{"a":127.7,"b":132.2,"v":"1"},{"a":133.3,"b":134.7,"v":"1"},{"a":155,"b":160.5,"v":"NA"}]},"mark":"rect","encoding":{"y":{"datum":"Integrative_subtypes","type":"nominal","axis":null},"color":{"field":"v","type":"nominal","scale":{"domain":["1","2","3","4","NA"],"range":["#DFF1F7","#AED8F5","#6A9EC8","#2BB5BE","#BDBDBD"]},"legend":{"values":["1","2","3","4"],"title":"Integrative_subtypes","titleFontWeight":"bold","orient":"none","legendX":213,"legendY":815,"labelFont":"DejaVu Sans","titleFont":"DejaVu Sans","labelFontSize":7.8,"titleFontSize":7.2,"symbolSize":49,"rowPadding":-2,"titlePadding":2}}}},
{"data":{"values":[{"a":0,"b":106.8,"v":"Adenocarcinoma"},{"a":110.5,"b":168,"v":"Adenocarcinoma"},{"a":46.8,"b":48.5,"v":"Papillary_carcinoma"},{"a":51.3,"b":54.2,"v":"Papillary_carcinoma"},{"a":58.3,"b":59.7,"v":"Papillary_carcinoma"},{"a":61.3,"b":66.8,"v":"Papillary_carcinoma"},{"a":71.3,"b":73.8,"v":"Papillary_carcinoma"},{"a":76.8,"b":82.7,"v":"Papillary_carcinoma"},{"a":85.5,"b":86.8,"v":"Papillary_carcinoma"},{"a":88.5,"b":92.5,"v":"Papillary_carcinoma"},{"a":94.3,"b":97.2,"v":"Papillary_carcinoma"},{"a":102.5,"b":104.2,"v":"Adenosquamous_carcinoma"},{"a":9.7,"b":11,"v":"NA"},{"a":28.3,"b":29.3,"v":"NA"},{"a":40,"b":41,"v":"NA"},{"a":152.2,"b":153.3,"v":"NA"},{"a":166.7,"b":168,"v":"Papillary_carcinoma"}]},"mark":"rect","encoding":{"y":{"datum":"Histology","type":"nominal","axis":null},"color":{"field":"v","type":"nominal","scale":{"domain":["Adenocarcinoma","Adenosquamous_carcinoma","Papillary_carcinoma","NA"],"range":["#FBCB92","#C45A1E","#F47B16","#BDBDBD"]},"legend":{"values":["Adenocarcinoma","Adenosquamous_carcinoma","Papillary_carcinoma"],"title":"Histology","titleFontWeight":"bold","orient":"none","legendX":311,"legendY":784,"labelFont":"DejaVu Sans","titleFont":"DejaVu Sans","labelFontSize":7.8,"titleFontSize":7.2,"symbolSize":64,"rowPadding":0,"titlePadding":2}}}},
{"data":{"values":[{"a":0,"b":106.8,"v":"Intrahepatic"},{"a":110.5,"b":168,"v":"Intrahepatic"},{"a":8,"b":15.5,"v":"Perihilar"},{"a":15.5,"b":17.2,"v":"Distal"},{"a":18,"b":19.3,"v":"Distal"},{"a":22.5,"b":25.5,"v":"Distal"},{"a":29.7,"b":31.3,"v":"NA"},{"a":31.3,"b":34,"v":"Perihilar"},{"a":42.2,"b":45.5,"v":"Perihilar"},{"a":48.5,"b":54.2,"v":"Perihilar"},{"a":60,"b":61.3,"v":"Perihilar"},{"a":65.8,"b":67.2,"v":"Perihilar"},{"a":68.3,"b":69.7,"v":"Perihilar"},{"a":71.3,"b":75.5,"v":"Perihilar"},{"a":76.8,"b":82.7,"v":"Perihilar"},{"a":90.2,"b":91.3,"v":"Perihilar"},{"a":92.7,"b":93.8,"v":"Perihilar"},{"a":100,"b":101.3,"v":"Perihilar"},{"a":152.2,"b":153.3,"v":"Perihilar"},{"a":155,"b":156.3,"v":"Perihilar"}]},"mark":"rect","encoding":{"y":{"datum":"Anatomical_subtype","type":"nominal","axis":null},"color":{"field":"v","type":"nominal","scale":{"domain":["Intrahepatic","Perihilar","Distal","NA"],"range":["#C0E0B5","#97C895","#5C8F62","#BDBDBD"]},"legend":{"values":["Intrahepatic","Perihilar","Distal"],"title":"Anatomical_subtype","titleFontWeight":"bold","orient":"none","legendX":311,"legendY":823,"labelFont":"DejaVu Sans","titleFont":"DejaVu Sans","labelFontSize":7.8,"titleFontSize":7.2,"symbolSize":64,"rowPadding":0,"titlePadding":2}}}},
{"data":{"values":[{"a":168.5,"t":"Cluster","s":"P value"}]},"mark":{"type":"text","align":"left","fontSize":8.5,"color":"#222"},"encoding":{"y":{"field":"t","type":"nominal","axis":null},"text":{"field":"s"}}},
{"data":{"values":[{"a":169,"t":"T","s":"**"},{"a":169,"t":"TP53_mutations","s":"****"},{"a":169,"t":"Integrative_subtypes","s":"****"},{"a":169,"t":"Histology","s":"****"},{"a":169,"t":"Anatomical_subtype","s":"****"}]},"mark":{"type":"text","align":"left","fontSize":8,"color":"#555","dy":2},"encoding":{"y":{"field":"t","type":"nominal","axis":null},"text":{"field":"s"}}},
{"data":{"values":[{"a":-29.5,"t":"Cluster","s":"D"}]},"mark":{"type":"text","fontSize":14,"align":"left","color":"#222","dy":-9},"encoding":{"y":{"field":"t","type":"nominal","axis":null},"text":{"field":"s"}}}
]},
{"encoding":{"x":{"field":"c","type":"nominal","scale":{"type":"band","domain":["C1","C2"],"range":[485,585.7],"paddingInner":0.36,"paddingOuter":0.343},"axis":{"orient":"bottom","offset":-155.3,"title":null,"labelAngle":0,"labelFontSize":6.5,"tickSize":3,"domainColor":"#555","tickColor":"#555","labelColor":"#444"}},"y":{"field":"lo","type":"quantitative","scale":{"domain":[0,100],"range":[728.7,646],"nice":false},"axis":{"orient":"left","offset":-485,"values":[0,20,40,60,80,100],"title":"Percent of histology","titleFontSize":7.5,"labelFontSize":6.5,"tickSize":3,"titlePadding":2,"domainColor":"#555","tickColor":"#555","labelColor":"#444","titleColor":"#444"}}},
"layer":[
{"data":{"values":[{"c":"C1","lo":0,"hi":70,"k":"Adenocarcinoma"},{"c":"C1","lo":70,"hi":71.5,"k":"Adenosquamous_carcinoma"},{"c":"C1","lo":71.5,"hi":100,"k":"Papillary_carcinoma"},{"c":"C2","lo":0,"hi":97,"k":"Adenocarcinoma"},{"c":"C2","lo":97,"hi":100,"k":"Papillary_carcinoma"}]},"mark":{"type":"bar","stroke":"#777","strokeWidth":1},"encoding":{"y2":{"field":"hi"},"color":{"field":"k","type":"nominal","scale":{"domain":["Papillary_carcinoma","Adenosquamous_carcinoma","Adenocarcinoma"],"range":["#F49B45","#E8721C","#FCDDBD"]},"legend":{"title":null,"orient":"none","legendX":583,"legendY":642,"symbolSize":50,"symbolStrokeWidth":1,"symbolStrokeColor":"#555","labelFont":"Liberation Sans","labelFontSize":6.6,"rowPadding":0,"labelColor":"#555"}}}},
{"data":{"values":[{"c":"C1","lo":101.2,"i":0},{"c":"C1","lo":108.8,"i":1},{"c":"C2","lo":108.8,"i":2},{"c":"C2","lo":101.2,"i":3}]},"mark":{"type":"line","color":"#444","strokeWidth":0.8},"encoding":{"order":{"field":"i"}}},
{"data":{"values":[{"c":"C1","lo":113,"k":"****"}]},"mark":{"type":"text","fontSize":8,"dx":21.6,"color":"#444"},"encoding":{"text":{"field":"k"}}},
{"data":{"values":[{"c":"C1","lo":140,"k":"E"}]},"mark":{"type":"text","fontSize":14,"align":"left","dx":-58,"color":"#222"},"encoding":{"text":{"field":"k"}}}
]},
{"encoding":{"x":{"field":"c","type":"nominal","scale":{"type":"band","domain":["C1","C2"],"range":[485,585.7],"paddingInner":0.36,"paddingOuter":0.343},"axis":{"orient":"bottom","offset":-10,"title":null,"labelAngle":0,"labelFontSize":6.5,"tickSize":3,"domainColor":"#555","tickColor":"#555","labelColor":"#444"}},"y":{"field":"lo","type":"quantitative","scale":{"domain":[0,100],"range":[874,791.3],"nice":false},"axis":{"orient":"left","offset":-485,"values":[0,20,40,60,80,100],"title":"Percent of anatomical subtype","titleFontSize":7,"labelFontSize":6.5,"tickSize":3,"titlePadding":2,"domainColor":"#555","tickColor":"#555","labelColor":"#444","titleColor":"#444"}}},
"layer":[
{"data":{"values":[{"c":"C1","lo":0,"hi":58,"k":"Intrahepatic"},{"c":"C1","lo":58,"hi":93.5,"k":"Perihilar"},{"c":"C1","lo":93.5,"hi":100,"k":"Distal"},{"c":"C2","lo":0,"hi":94,"k":"Intrahepatic"},{"c":"C2","lo":94,"hi":100,"k":"Perihilar"}]},"mark":{"type":"bar","stroke":"#222","strokeWidth":1},"encoding":{"y2":{"field":"hi"},"color":{"field":"k","type":"nominal","scale":{"domain":["Distal","Perihilar","Intrahepatic"],"range":["#1E9A5E","#6CC09A","#CCE8DD"]},"legend":{"title":null,"orient":"none","legendX":589,"legendY":792,"symbolSize":50,"symbolStrokeWidth":1,"symbolStrokeColor":"#333","labelFont":"Liberation Sans","labelFontSize":6.8,"rowPadding":0,"labelColor":"#555"}}}},
{"data":{"values":[{"c":"C1","lo":102.8,"i":0},{"c":"C1","lo":110,"i":1},{"c":"C2","lo":110,"i":2},{"c":"C2","lo":102.8,"i":3}]},"mark":{"type":"line","color":"#444","strokeWidth":0.8},"encoding":{"order":{"field":"i"}}},
{"data":{"values":[{"c":"C1","lo":114,"k":"****"}]},"mark":{"type":"text","fontSize":8,"dx":21.6,"color":"#444"},"encoding":{"text":{"field":"k"}}},
{"data":{"values":[{"c":"C1","lo":123,"k":"F"}]},"mark":{"type":"text","fontSize":14,"align":"left","dx":-58,"color":"#222"},"encoding":{"text":{"field":"k"}}}
]}
]}
